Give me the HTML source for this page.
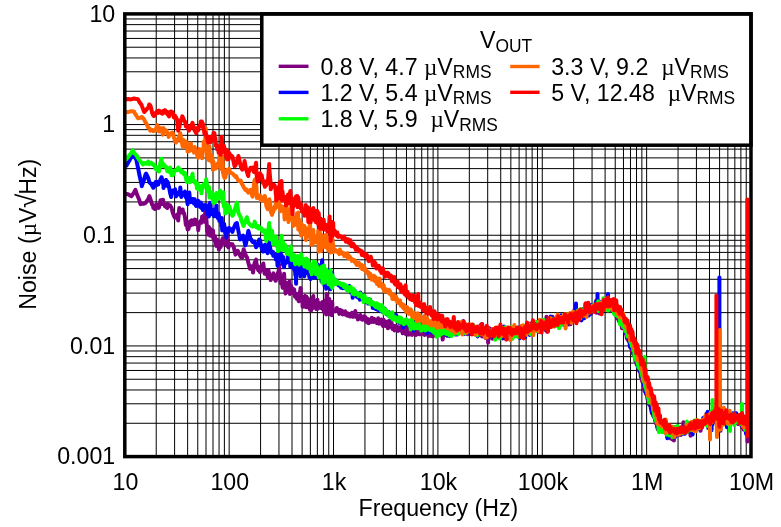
<!DOCTYPE html>
<html><head><meta charset="utf-8"><title>Noise vs Frequency</title>
<style>
html,body{margin:0;padding:0;background:#fff;}
body{width:781px;height:527px;overflow:hidden;}
svg{display:block;}
.t text{font-family:"Liberation Sans",Arial,Helvetica,sans-serif;font-size:23.2px;fill:#000;}
.t .mu{font-family:"Liberation Serif","Times New Roman",serif;}
.t .sub{font-size:17.4px;}
.t .rad{font-size:26px;}
</style></head><body>
<svg width="781" height="527" viewBox="0 0 781 527">
<rect width="781" height="527" fill="#fff"/>
<path d="M156.22 13.90V456.60M174.60 13.90V456.60M187.63 13.90V456.60M197.75 13.90V456.60M206.01 13.90V456.60M213.00 13.90V456.60M219.05 13.90V456.60M224.39 13.90V456.60M229.17 13.90V456.60M260.58 13.90V456.60M278.96 13.90V456.60M292.00 13.90V456.60M302.12 13.90V456.60M310.38 13.90V456.60M317.37 13.90V456.60M323.42 13.90V456.60M328.76 13.90V456.60M333.53 13.90V456.60M364.95 13.90V456.60M383.33 13.90V456.60M396.37 13.90V456.60M406.48 13.90V456.60M414.75 13.90V456.60M421.73 13.90V456.60M427.79 13.90V456.60M433.12 13.90V456.60M437.90 13.90V456.60M469.32 13.90V456.60M487.70 13.90V456.60M500.73 13.90V456.60M510.85 13.90V456.60M519.11 13.90V456.60M526.10 13.90V456.60M532.15 13.90V456.60M537.49 13.90V456.60M542.27 13.90V456.60M573.68 13.90V456.60M592.06 13.90V456.60M605.10 13.90V456.60M615.22 13.90V456.60M623.48 13.90V456.60M630.47 13.90V456.60M636.52 13.90V456.60M641.86 13.90V456.60M646.63 13.90V456.60M678.05 13.90V456.60M696.43 13.90V456.60M709.47 13.90V456.60M719.58 13.90V456.60M727.85 13.90V456.60M734.83 13.90V456.60M740.89 13.90V456.60M746.22 13.90V456.60M124.80 423.28H751.00M124.80 403.79H751.00M124.80 389.97H751.00M124.80 379.24H751.00M124.80 370.48H751.00M124.80 363.07H751.00M124.80 356.65H751.00M124.80 350.99H751.00M124.80 345.93H751.00M124.80 312.61H751.00M124.80 293.12H751.00M124.80 279.29H751.00M124.80 268.57H751.00M124.80 259.80H751.00M124.80 252.39H751.00M124.80 245.98H751.00M124.80 240.31H751.00M124.80 235.25H751.00M124.80 201.93H751.00M124.80 182.44H751.00M124.80 168.62H751.00M124.80 157.89H751.00M124.80 149.13H751.00M124.80 141.72H751.00M124.80 135.30H751.00M124.80 129.64H751.00M124.80 124.57H751.00M124.80 91.26H751.00M124.80 71.77H751.00M124.80 57.94H751.00M124.80 47.22H751.00M124.80 38.45H751.00M124.80 31.04H751.00M124.80 24.63H751.00M124.80 18.96H751.00" stroke="#000" stroke-width="1" fill="none"/>
<g stroke="#800080" stroke-width="4" fill="none" stroke-linejoin="round" stroke-linecap="round">
<path d="M126.4 194.0 L128.1 194.2 L131.1 196.1 L131.5 196.2 L134.0 192.5 L135.4 189.8 L136.7 193.8 L139.2 199.7 L140.5 204.2 L141.6 203.7 L143.9 203.8 L145.6 202.9 L146.1 202.2 L148.2 199.0 L149.2 196.5 L149.4 196.2 L150.2 198.4 L151.2 201.6 L152.1 204.6 L153.1 205.1 L153.3 207.8 L153.9 207.6 L154.9 209.0 L155.6 207.5 L156.6 204.5 L157.3 207.6 L158.3 208.0 L158.4 206.7 L159.0 207.4 L160.0 203.9 L160.5 200.2 L161.5 200.6 L162.1 204.0 L162.3 199.9 L163.1 199.7 L163.5 202.6 L164.5 204.0 L165.0 206.3 L166.0 206.1 L166.1 204.7 L166.3 207.1 L167.3 207.9 L167.7 203.8 L168.7 205.0 L169.0 204.9 L170.2 205.6 L171.2 207.4 L171.5 207.4 L172.7 212.6 L173.8 215.5 L175.0 217.8 L175.1 215.8 L176.1 217.1 L177.2 214.6 L177.6 215.3 L178.2 220.5 L179.3 208.0 L180.3 211.7 L181.3 212.4 L182.2 212.0 L182.7 209.5 L183.2 212.7 L184.1 213.2 L185.0 217.5 L185.9 225.0 L186.8 223.5 L187.6 229.6 L187.9 228.0 L188.5 229.1 L189.3 225.6 L190.1 221.2 L190.9 225.2 L191.7 220.2 L192.5 223.6 L193.0 221.5 L193.2 224.4 L194.0 220.9 L194.7 219.6 L195.4 224.3 L196.1 220.0 L196.8 223.7 L197.5 224.5 L198.1 225.3 L198.2 230.2 L198.9 224.2 L199.5 222.4 L200.2 222.2 L200.8 220.9 L201.4 222.8 L201.9 221.2 L202.1 216.4 L202.7 220.1 L203.3 218.8 L203.9 215.4 L204.5 221.7 L205.1 214.4 L205.6 207.9 L205.8 214.1 L206.2 217.5 L206.8 225.2 L207.1 231.5 L207.3 226.0 L207.9 234.6 L208.4 227.7 L208.9 226.9 L209.5 232.6 L210.0 235.6 L210.5 229.1 L211.0 232.8 L211.5 233.6 L212.0 236.5 L212.2 234.3 L212.5 236.7 L213.0 230.4 L213.5 238.5 L214.0 239.8 L214.4 240.1 L214.9 236.3 L215.4 239.3 L215.8 242.9 L216.3 245.9 L216.7 242.2 L217.2 239.8 L217.6 241.4 L218.0 242.2 L218.5 245.3 L218.6 244.8 L218.9 249.5 L219.3 243.5 L219.8 242.3 L220.2 245.4 L220.6 247.0 L221.0 241.4 L221.4 243.5 L221.8 243.0 L222.2 243.3 L222.4 238.9 L222.6 243.1 L223.0 238.0 L223.4 239.1 L223.8 242.3 L224.1 241.0 L224.5 242.1 L224.9 243.7 L225.3 243.5 L225.6 243.0 L226.0 241.3 L226.4 245.1 L226.7 233.7 L227.1 241.4 L227.4 246.1 L227.6 246.2 L227.8 240.9 L228.1 243.5 L228.5 247.6 L228.8 244.7 L229.2 244.0 L230.0 244.0 L232.4 244.3 L233.8 247.3 L235.5 254.6 L237.7 250.8 L238.4 252.7 L241.1 257.3 L242.3 257.4 L243.6 249.2 L246.0 256.0 L246.9 257.2 L248.3 262.6 L250.0 268.7 L250.5 266.1 L252.5 267.1 L253.0 272.6 L254.5 263.4 L256.1 259.7 L256.4 263.4 L258.3 270.3 L258.4 266.7 L260.0 272.1 L261.5 265.7 L261.7 269.8 L263.3 263.5 L264.6 273.7 L264.9 273.7 L266.4 270.5 L267.9 277.7 L268.4 270.1 L269.3 274.2 L270.7 280.0 L272.0 276.4 L273.0 278.1 L273.3 273.3 L274.6 275.6 L275.1 279.9 L275.6 275.6 L275.8 280.8 L276.3 275.5 L276.8 276.5 L276.9 277.8 L277.0 277.8 L277.5 277.8 L278.0 272.4 L278.2 272.7 L278.7 271.2 L279.2 268.1 L279.2 264.7 L279.3 271.8 L279.8 272.6 L280.4 279.2 L280.7 283.1 L280.9 282.3 L281.5 279.2 L282.0 282.5 L282.6 287.8 L283.1 276.9 L283.6 280.3 L284.1 273.8 L284.6 283.0 L285.1 287.3 L285.6 293.5 L286.1 282.8 L286.6 286.0 L287.1 290.6 L287.5 291.8 L288.0 288.3 L288.5 288.9 L289.0 287.6 L289.4 281.6 L289.9 293.9 L290.0 291.5 L290.3 288.6 L290.8 291.6 L291.1 285.7 L291.6 287.6 L292.0 291.3 L292.5 292.9 L292.8 291.0 L293.3 289.0 L293.7 293.5 L294.2 289.6 L294.5 293.4 L295.0 296.7 L295.3 293.2 L295.8 295.2 L296.1 293.7 L296.6 296.1 L296.8 298.7 L297.3 295.3 L297.6 298.3 L298.1 295.5 L298.3 300.0 L298.8 301.3 L299.1 296.4 L299.6 295.8 L299.8 291.9 L300.0 297.4 L300.3 292.0 L300.5 288.1 L301.0 299.0 L301.2 296.8 L301.7 296.4 L301.9 300.1 L302.4 299.9 L302.6 306.8 L303.1 297.3 L303.2 301.3 L303.7 298.5 L303.9 299.7 L304.4 296.7 L304.5 297.8 L305.0 295.9 L305.2 305.7 L305.7 306.8 L305.8 304.7 L306.3 296.6 L306.4 307.3 L307.0 303.0 L307.7 298.2 L308.3 300.9 L308.8 307.7 L309.4 300.2 L310.0 309.7 L310.6 301.1 L311.1 310.6 L311.7 302.4 L312.2 308.7 L312.8 297.3 L312.8 304.0 L313.3 296.0 L313.8 307.6 L314.4 306.0 L314.9 307.0 L315.4 306.2 L315.9 303.2 L316.4 309.1 L316.9 303.9 L317.4 299.7 L317.8 308.7 L318.3 307.9 L318.8 304.9 L319.3 305.9 L319.7 303.3 L320.2 307.6 L320.6 305.5 L321.1 308.0 L321.5 306.6 L322.0 308.3 L322.4 301.9 L322.8 309.2 L323.3 303.4 L323.7 309.8 L324.1 312.3 L324.5 309.3 L325.0 312.7 L325.4 309.8 L325.6 306.6 L325.8 299.9 L326.2 314.4 L326.6 294.0 L327.0 304.7 L327.4 304.2 L327.7 305.7 L328.1 306.6 L328.5 304.6 L328.9 308.6 L329.3 299.1 L329.6 314.3 L330.0 307.8 L330.4 306.1 L330.7 302.1 L331.1 313.4 L331.4 312.5 L331.8 315.3 L332.2 302.1 L332.5 307.6 L332.8 311.2 L333.2 311.5 L333.5 310.5 L334.0 311.2 L334.5 311.1 L335.0 311.0 L335.5 311.2 L336.0 310.6 L336.5 310.6 L336.8 307.9 L337.3 309.1 L337.8 310.9 L338.3 311.6 L338.8 311.6 L339.3 313.9 L339.9 309.8 L340.4 313.0 L340.9 311.4 L341.4 312.8 L341.9 310.8 L342.4 311.4 L342.7 314.6 L343.2 312.3 L343.7 312.6 L344.2 312.4 L344.7 311.5 L345.2 311.4 L345.4 314.6 L345.9 313.2 L346.4 312.8 L346.9 315.4 L347.4 313.1 L348.0 315.8 L348.5 315.1 L349.0 314.3 L349.5 315.7 L350.0 316.5 L350.4 316.4 L350.9 314.6 L351.4 315.6 L351.9 312.8 L352.4 316.5 L352.7 316.8 L353.2 316.7 L353.7 315.0 L354.2 315.0 L354.7 316.5 L354.8 315.3 L355.3 310.9 L355.8 315.4 L356.3 316.9 L356.9 317.3 L357.4 315.1 L357.9 319.4 L358.4 315.7 L358.9 317.1 L359.4 318.7 L359.9 317.5 L360.4 315.0 L360.8 318.6 L361.3 316.7 L361.8 319.5 L362.3 319.2 L362.6 319.7 L363.1 318.9 L363.6 318.6 L364.1 317.4 L364.4 316.4 L364.9 318.1 L365.4 317.1 L365.9 321.1 L366.1 321.6 L366.6 318.5 L367.1 320.8 L367.6 319.0 L367.7 320.5 L368.2 323.0 L368.7 323.1 L369.3 319.9 L369.8 321.4 L370.3 321.0 L370.8 319.1 L371.3 321.9 L371.8 317.8 L372.3 320.2 L372.8 321.1 L373.3 318.6 L373.7 322.0 L374.2 320.9 L374.7 319.1 L375.1 320.0 L375.6 320.0 L376.1 322.0 L376.4 321.6 L376.9 323.1 L377.4 321.4 L377.7 322.1 L378.2 318.3 L378.7 322.7 L379.0 323.6 L379.5 322.9 L380.0 322.8 L380.2 320.0 L380.7 322.9 L381.2 323.7 L381.4 319.4 L381.9 321.3 L382.4 322.5 L382.6 323.9 L383.1 326.0 L383.6 322.6 L383.7 319.7 L384.2 322.7 L384.8 321.4 L385.3 326.0 L385.9 324.2 L386.4 323.2 L387.0 325.8 L387.5 321.6 L388.0 328.3 L388.5 323.1 L389.0 326.1 L389.5 320.7 L390.0 326.4 L390.5 326.7 L391.0 325.2 L391.5 322.2 L391.9 326.9 L392.4 328.5 L392.8 329.1 L393.3 325.9 L393.7 325.8 L394.2 327.6 L394.6 330.4 L395.1 328.2 L395.5 327.6 L396.0 326.1 L396.4 327.1 L396.9 326.4 L397.2 328.7 L397.7 328.6 L398.0 330.9 L398.5 328.3 L398.8 328.0 L399.3 329.0 L399.6 329.4 L400.1 327.4 L400.4 330.4 L400.9 327.4 L401.2 328.7 L401.7 325.3 L402.0 329.1 L402.5 328.8 L402.7 333.3 L403.2 328.4 L403.4 328.2 L403.9 328.6 L404.2 326.9 L404.7 330.2 L404.9 329.1 L405.4 330.6 L405.6 328.0 L406.1 334.3 L406.3 331.0 L406.8 328.7 L406.9 328.5 L407.4 328.6 L407.6 333.0 L408.1 334.7 L408.3 325.1 L408.8 333.5 L408.9 330.3 L409.4 328.0 L409.5 332.4 L410.0 334.4 L410.2 325.5 L410.7 329.7 L410.8 331.8 L411.4 329.0 L412.0 334.9 L412.6 330.2 L413.2 331.0 L413.8 334.0 L414.4 330.6 L414.9 333.4 L415.5 332.5 L416.0 335.0 L416.6 331.3 L417.1 332.4 L417.7 334.2 L418.2 330.5 L418.7 330.6 L419.2 332.8 L419.7 334.3 L420.3 331.9 L420.8 334.2 L421.2 334.2 L421.7 332.2 L422.2 332.1 L422.7 331.7 L423.2 333.2 L423.6 331.6 L424.1 330.7 L424.6 334.9 L425.0 329.5 L425.5 334.0 L425.9 330.2 L426.3 332.1 L426.8 334.1 L427.2 333.0 L427.6 334.6 L428.1 335.0 L428.5 336.1 L428.9 332.1 L429.3 331.4 L429.7 333.0 L430.1 333.3 L430.5 335.0 L430.9 333.9 L431.3 335.9 L431.7 332.9 L432.1 335.2 L432.5 336.3 L432.9 332.4 L433.3 332.0 L433.6 334.4 L434.0 334.6 L434.4 332.3 L434.7 334.0 L435.1 333.1 L435.5 331.6 L435.8 336.0 L436.2 333.2 L436.5 331.3 L436.9 331.4 L437.2 331.3 L437.6 333.0 L437.9 331.2 L438.4 334.6 L438.9 332.1 L439.4 333.5 L439.9 332.4 L440.4 328.8 L440.9 332.4 L441.2 326.3 L441.7 333.5 L442.2 331.7 L442.7 339.6 L443.2 334.3 L443.7 332.6 L444.2 330.9 L444.7 332.4 L445.2 330.5 L445.7 333.3 L446.2 332.1 L446.7 334.3 L447.1 335.8 L447.6 333.0 L448.1 330.7 L448.6 331.7 L449.1 333.7 L449.6 324.8 L449.8 331.0 L450.3 329.1 L450.8 333.2 L451.3 331.0 L451.8 332.8 L452.3 333.0 L452.8 329.9 L453.3 331.3 L453.8 329.1 L454.3 327.3 L454.7 332.0 L455.2 332.9 L455.7 333.9 L456.2 330.6 L456.7 325.1 L457.0 328.1 L457.5 334.5 L458.0 331.0 L458.5 325.6 L459.0 329.4 L459.2 329.6 L459.7 329.3 L460.2 329.4 L460.7 325.2 L461.3 329.3 L461.8 330.5 L462.3 332.8 L462.8 332.5 L463.3 320.9 L463.8 327.3 L464.3 325.0 L464.8 326.6 L465.2 326.0 L465.7 330.9 L466.2 328.4 L466.7 331.1 L467.0 331.1 L467.5 334.2 L468.0 333.7 L468.5 331.8 L468.7 328.5 L469.2 327.2 L469.7 327.6 L470.2 331.2 L470.4 327.1 L470.9 328.3 L471.4 330.5 L471.9 327.9 L472.1 331.8 L472.6 332.9 L473.1 329.3 L473.6 330.7 L474.1 331.3 L474.6 334.2 L475.2 329.0 L475.7 332.4 L476.2 332.9 L476.6 329.6 L477.1 330.3 L477.6 333.9 L478.1 330.8 L478.6 330.3 L479.1 328.6 L479.4 334.7 L479.9 330.7 L480.4 325.3 L480.8 331.4 L481.3 334.9 L481.8 332.6 L482.1 336.4 L482.6 330.1 L483.1 332.5 L483.3 330.9 L483.8 336.3 L484.3 333.2 L484.6 331.5 L485.1 332.9 L485.6 338.0 L485.8 331.1 L486.3 333.0 L486.8 334.2 L486.9 333.3 L487.4 331.6 L487.9 334.5 L488.1 342.7 L488.6 331.4 L489.2 328.2 L489.7 330.7 L490.3 328.7 L490.8 333.3 L491.3 332.8 L491.8 338.0 L492.4 338.7 L492.9 331.3 L493.4 336.7 L493.9 335.1 L494.4 333.7 L494.9 336.0 L495.3 328.7 L495.8 333.8 L496.3 334.6 L496.8 337.3 L497.2 334.3 L497.7 336.9 L498.1 334.8 L498.6 333.3 L499.0 332.9 L499.5 332.4 L499.9 337.8 L500.4 334.9 L500.7 335.1 L501.2 327.5 L501.6 332.6 L502.1 329.5 L502.4 337.0 L502.9 331.3 L503.2 337.4 L503.7 336.4 L504.0 336.3 L504.5 334.2 L504.8 334.8 L505.3 331.0 L505.6 332.4 L506.1 333.0 L506.3 334.8 L506.8 334.2 L507.1 330.5 L507.6 339.0 L507.8 335.0 L508.3 328.5 L508.5 332.8 L509.0 334.5 L509.2 331.8 L509.7 331.3 L509.9 333.8 L510.4 333.1 L510.6 335.0 L511.1 330.0 L511.3 331.7 L511.8 328.8 L512.0 331.7 L512.5 333.5 L512.6 334.1 L513.1 333.1 L513.3 333.0 L513.8 334.0 L513.9 332.5 L514.4 330.9 L514.5 331.7 L515.0 331.1 L515.2 333.1 L515.8 335.1 L516.4 332.2 L517.0 330.4 L517.6 330.2 L518.2 336.4 L518.7 331.4 L519.3 329.6 L519.9 329.0 L520.4 329.7 L521.0 333.7 L521.5 335.3 L522.0 332.3 L522.6 329.2 L523.1 333.6 L523.6 331.5 L524.1 331.4 L524.6 328.3 L525.1 328.5 L525.6 330.1 L526.1 332.1 L526.6 330.9 L527.1 330.9 L527.5 330.7 L528.0 334.1 L528.5 331.0 L528.9 329.0 L529.4 326.8 L529.8 328.9 L530.3 328.5 L530.7 323.5 L531.1 330.1 L531.6 327.7 L532.0 328.3 L532.4 325.5 L532.9 329.2 L533.3 328.4 L533.7 330.4 L534.1 328.9 L534.5 325.0 L534.9 328.6 L535.3 323.1 L535.7 330.0 L536.1 326.0 L536.5 328.9 L536.9 322.0 L537.2 329.1 L537.6 326.3 L538.0 326.3 L538.4 332.1 L538.7 325.5 L539.1 330.5 L539.5 329.6 L539.8 326.4 L540.2 326.8 L540.5 327.1 L540.9 327.0 L541.2 325.1 L541.6 323.1 L541.9 328.4 L542.3 326.4 L542.8 323.9 L543.3 327.3 L543.8 326.1 L544.3 322.3 L544.8 324.7 L545.3 330.0 L545.5 324.0 L546.0 325.3 L546.5 316.7 L547.0 331.7 L547.5 321.0 L548.0 324.5 L548.6 323.2 L549.1 321.0 L549.6 322.8 L550.1 319.9 L550.6 326.7 L551.1 322.9 L551.5 321.3 L552.0 324.1 L552.5 316.7 L553.0 322.8 L553.5 322.2 L554.0 319.6 L554.2 322.9 L554.7 326.2 L555.2 325.1 L555.7 323.6 L556.2 322.8 L556.7 323.7 L557.2 321.6 L557.7 322.1 L558.2 321.6 L558.7 323.1 L559.1 319.0 L559.6 319.6 L560.1 320.5 L560.6 323.4 L561.1 324.9 L561.4 323.3 L561.9 317.0 L562.4 319.2 L562.9 323.6 L563.4 321.3 L563.6 320.0 L564.1 322.7 L564.6 322.0 L565.1 319.7 L565.6 320.2 L566.1 315.7 L566.6 317.4 L567.1 320.7 L567.6 319.3 L568.1 321.1 L568.6 324.5 L569.1 319.8 L569.5 323.2 L570.0 319.8 L570.5 324.3 L571.0 317.2 L571.4 314.4 L571.9 318.8 L572.4 315.4 L572.9 319.5 L573.1 316.4 L573.6 314.7 L574.1 315.7 L574.6 309.1 L574.8 311.4 L575.3 314.6 L575.8 313.1 L576.3 314.7 L576.4 318.3 L576.9 321.2 L577.4 314.6 L578.0 315.3 L578.5 316.0 L579.0 315.5 L579.5 314.8 L580.0 310.7 L580.5 312.0 L581.0 313.6 L581.5 313.4 L582.0 314.3 L582.4 316.4 L582.9 311.2 L583.4 308.9 L583.8 313.9 L584.3 310.8 L584.8 311.8 L585.1 312.0 L585.6 303.9 L586.1 311.8 L586.4 314.6 L586.9 313.5 L587.4 307.9 L587.7 314.1 L588.2 309.6 L588.7 311.4 L588.9 310.1 L589.4 307.3 L589.9 309.2 L590.1 313.2 L590.6 308.0 L591.1 313.9 L591.3 309.7 L591.8 305.8 L592.3 306.7 L592.4 305.2 L592.9 307.5 L593.5 306.4 L594.0 305.4 L594.6 308.4 L595.1 308.4 L595.7 307.4 L596.2 300.6 L596.7 312.8 L597.2 308.2 L597.7 306.3 L598.2 309.1 L598.7 301.2 L599.2 306.7 L599.7 313.6 L600.2 302.9 L600.6 302.9 L601.1 308.0 L601.6 307.1 L602.1 304.2 L602.5 307.9 L603.0 302.9 L603.4 307.4 L603.9 298.8 L604.2 304.2 L604.7 305.4 L605.1 307.0 L605.6 300.8 L605.9 304.7 L606.4 305.1 L606.8 304.1 L607.3 309.5 L607.6 306.2 L608.1 309.8 L608.4 305.2 L608.9 306.6 L609.2 301.9 L609.7 304.7 L609.9 309.0 L610.4 309.0 L610.7 310.6 L611.2 308.3 L611.4 308.1 L611.9 302.8 L612.2 304.2 L612.7 307.3 L612.9 308.3 L613.4 308.5 L613.6 311.4 L614.1 306.4 L614.3 309.2 L614.8 310.3 L615.0 311.5 L615.5 313.9 L615.7 315.7 L616.2 310.2 L616.3 312.8 L616.8 306.8 L617.0 318.4 L617.5 311.8 L617.6 316.7 L618.1 312.7 L618.3 317.5 L618.8 316.1 L618.9 321.1 L619.4 321.1 L619.5 317.3 L620.1 322.8 L620.8 320.7 L621.4 320.7 L621.9 328.2 L622.5 320.4 L623.1 324.3 L623.7 327.8 L624.2 329.2 L624.8 329.2 L625.3 332.6 L625.9 333.5 L626.4 334.8 L626.9 338.4 L627.5 339.3 L628.0 339.6 L628.5 341.0 L629.0 338.1 L629.5 338.9 L630.0 346.8 L630.5 341.8 L630.9 345.5 L631.4 348.6 L631.9 351.0 L632.4 353.1 L632.8 350.1 L633.3 354.3 L633.7 351.1 L634.2 354.9 L634.6 355.5 L635.1 354.5 L635.5 361.3 L635.9 357.5 L636.4 363.9 L636.8 360.1 L637.2 364.6 L637.6 365.1 L638.1 365.7 L638.5 367.7 L638.9 370.4 L639.3 370.2 L639.7 369.1 L640.1 372.2 L640.5 371.8 L640.8 376.9 L641.2 374.6 L641.6 379.2 L642.0 380.3 L642.4 382.0 L642.7 373.1 L643.1 380.6 L643.5 381.9 L643.8 389.7 L644.2 382.9 L644.5 391.1 L644.9 390.4 L645.3 392.1 L645.6 391.6 L645.9 394.1 L646.3 392.9 L646.6 394.2 L647.1 394.4 L647.6 399.7 L648.1 399.4 L648.6 395.9 L649.1 404.3 L649.6 402.3 L649.9 405.5 L650.4 405.1 L650.9 406.6 L651.4 410.3 L651.9 413.5 L652.4 413.8 L653.0 411.4 L653.5 415.6 L654.0 417.1 L654.5 415.8 L655.0 419.6 L655.5 421.9 L655.8 423.2 L656.3 422.9 L656.8 421.4 L657.3 426.4 L657.8 429.4 L658.3 425.1 L658.5 422.5 L659.0 423.9 L659.5 421.5 L660.0 430.1 L660.5 423.7 L661.1 427.1 L661.6 428.7 L662.1 431.8 L662.6 430.1 L663.1 431.4 L663.5 427.1 L664.0 430.9 L664.5 427.4 L665.0 430.8 L665.5 428.7 L665.8 426.4 L666.3 433.2 L666.8 430.3 L667.3 431.9 L667.8 429.3 L667.9 430.1 L668.4 426.3 L668.9 428.8 L669.4 430.2 L670.0 433.9 L670.5 438.6 L671.0 431.0 L671.5 432.4 L672.0 435.6 L672.5 439.6 L673.0 435.6 L673.5 432.1 L673.9 440.4 L674.4 426.9 L674.9 433.8 L675.4 434.5 L675.7 432.4 L676.2 429.0 L676.7 428.1 L677.2 430.1 L677.5 431.0 L678.0 432.9 L678.5 435.0 L679.0 432.5 L679.2 431.0 L679.7 431.6 L680.2 432.3 L680.7 431.0 L680.8 435.0 L681.3 431.1 L681.8 431.3 L682.4 431.1 L682.9 429.8 L683.4 422.3 L683.9 430.5 L684.4 431.3 L684.9 428.2 L685.4 430.1 L685.9 431.3 L686.4 430.3 L686.8 432.3 L687.3 432.0 L687.8 427.3 L688.2 425.8 L688.7 423.4 L689.2 429.1 L689.5 429.4 L690.0 426.9 L690.5 435.7 L690.8 424.6 L691.3 424.4 L691.8 426.5 L692.1 427.0 L692.6 425.0 L693.1 429.3 L693.3 425.7 L693.8 425.3 L694.3 427.7 L694.5 424.4 L695.0 425.7 L695.5 428.2 L695.7 424.2 L696.2 422.7 L696.7 423.8 L696.8 424.9 L697.3 426.2 L697.9 425.7 L698.4 425.1 L699.0 425.8 L699.5 425.3 L700.1 424.5 L700.6 430.8 L701.1 422.9 L701.6 420.9 L702.1 425.7 L702.6 424.0 L703.1 420.8 L703.6 423.5 L704.1 421.1 L704.6 420.8 L705.0 421.6 L705.5 419.8 L705.9 418.0 L706.4 413.8 L706.8 424.5 L707.3 424.4 L707.7 420.7 L708.2 419.5 L708.6 416.9 L709.1 422.3 L709.5 420.0 L710.0 427.4 L710.3 414.6 L710.8 416.1 L711.1 418.3 L711.6 418.3 L711.9 416.8 L712.4 418.0 L712.7 413.3 L713.2 417.8 L713.5 414.2 L714.0 421.2 L714.3 418.9 L714.8 412.7 L715.1 418.6 L715.6 409.9 L715.8 422.5 L716.3 414.1 L716.5 420.1 L717.0 408.5 L717.3 422.6 L717.8 422.3 L718.0 409.3 L718.5 406.7 L718.7 420.9 L719.2 410.8 L719.4 426.6 L719.9 420.5 L720.0 421.5 L720.5 430.8 L720.7 413.6 L721.2 419.1 L721.4 417.2 L721.9 422.5 L722.0 415.7 L722.5 419.0 L722.6 416.3 L723.1 418.8 L723.3 421.1 L723.8 417.4 L723.9 419.6 L724.5 415.9 L725.1 416.8 L725.7 418.4 L726.3 414.2 L726.9 420.9 L727.5 417.6 L728.0 417.9 L728.6 422.0 L729.1 415.5 L729.7 417.5 L730.2 414.8 L730.8 422.0 L731.3 415.0 L731.8 417.6 L732.3 418.2 L732.8 418.5 L733.4 417.1 L733.9 415.4 L734.3 416.1 L734.8 421.1 L735.3 418.9 L735.8 419.7 L736.3 418.9 L736.7 419.8 L737.2 419.5 L737.7 423.6 L738.1 424.0 L738.6 420.3 L739.0 418.4 L739.4 418.7 L739.9 422.0 L740.3 418.1 L740.7 419.9 L741.2 420.2 L741.6 425.0 L742.0 427.2 L742.4 427.6 L742.8 426.5 L743.2 427.2 L743.6 429.6 L744.0 425.3 L744.4 424.7 L744.8 425.3 L745.2 422.8 L745.6 424.0 L746.0 424.7 L746.4 421.9 L746.7 421.7 L747.1 431.8 L747.5 432.7"/>
<path d="M747.4 420.0V441.5" stroke-width="4"/>
</g>
<g stroke="#0000ff" stroke-width="4" fill="none" stroke-linejoin="round" stroke-linecap="round">
<path d="M126.4 165.7 L128.1 162.8 L131.1 157.6 L132.8 154.1 L134.0 155.3 L136.6 160.4 L136.7 161.6 L139.2 173.5 L139.2 174.0 L141.6 184.6 L141.8 186.2 L143.9 180.1 L145.6 174.2 L146.1 173.7 L148.2 177.9 L149.2 181.5 L149.4 182.4 L150.2 183.1 L151.2 183.6 L152.1 185.8 L153.1 186.6 L153.3 187.8 L153.9 186.6 L154.9 186.0 L155.6 182.0 L156.6 185.2 L157.3 181.9 L158.3 184.5 L158.4 183.6 L159.0 182.4 L160.0 181.6 L160.5 179.2 L161.0 178.6 L161.5 177.2 L162.1 179.1 L163.1 183.5 L163.5 185.7 L163.5 188.0 L164.5 183.6 L165.0 183.0 L166.0 180.0 L166.3 182.7 L167.3 185.9 L167.4 181.5 L167.7 182.6 L168.7 186.1 L169.0 186.8 L170.2 193.3 L171.2 197.0 L171.5 195.1 L172.7 190.6 L173.8 192.0 L175.0 189.6 L175.1 189.2 L176.1 196.4 L177.2 193.5 L178.2 194.4 L179.3 192.0 L180.2 190.1 L180.3 187.5 L181.3 197.1 L182.2 193.4 L183.2 192.9 L184.0 194.6 L184.1 193.7 L185.0 191.6 L185.9 197.4 L186.8 198.1 L187.6 204.3 L187.9 198.3 L188.5 201.5 L189.3 192.6 L190.1 200.9 L190.9 202.1 L191.7 200.3 L191.7 199.2 L192.5 199.0 L193.2 199.0 L194.0 203.6 L194.7 199.3 L195.4 204.4 L196.1 206.0 L196.8 203.0 L196.8 205.7 L197.5 202.6 L198.2 200.9 L198.9 204.8 L199.5 205.7 L200.2 207.0 L200.8 202.5 L201.4 205.6 L201.9 208.3 L202.1 205.1 L202.7 209.9 L203.3 206.1 L203.9 206.6 L204.5 205.1 L205.1 207.4 L205.6 207.3 L206.2 205.2 L206.8 210.4 L207.1 209.8 L207.3 213.8 L207.9 206.3 L208.4 215.3 L208.9 216.5 L209.5 212.7 L210.0 202.8 L210.5 209.6 L211.0 211.6 L211.5 212.8 L212.0 214.1 L212.2 213.8 L212.5 211.0 L213.0 209.7 L213.5 211.2 L214.0 216.2 L214.4 216.1 L214.9 216.0 L215.4 212.9 L215.8 214.7 L216.3 205.6 L216.7 215.3 L217.2 217.0 L217.3 213.8 L217.6 217.9 L218.0 214.4 L218.5 213.3 L218.9 215.1 L219.3 220.9 L219.8 221.0 L220.2 218.0 L220.6 220.8 L221.0 222.9 L221.2 220.5 L221.4 226.0 L221.8 217.9 L222.2 230.4 L222.6 225.3 L223.0 227.6 L223.4 225.0 L223.8 226.6 L224.1 223.9 L224.5 226.7 L224.9 228.8 L225.0 230.3 L225.3 233.6 L225.6 231.8 L226.0 228.7 L226.4 237.5 L226.7 232.9 L227.1 229.0 L227.4 232.1 L227.8 230.1 L228.1 231.6 L228.5 230.9 L228.8 228.1 L229.2 228.1 L230.0 228.5 L232.4 231.8 L233.1 229.6 L235.5 224.0 L236.9 223.0 L238.4 231.0 L240.0 239.5 L241.1 237.2 L243.1 235.7 L243.6 238.1 L245.4 245.4 L246.0 243.6 L248.3 231.0 L248.4 230.9 L250.5 238.7 L251.5 239.9 L252.5 242.0 L254.5 241.5 L256.1 247.2 L256.4 246.1 L258.3 245.2 L259.2 239.5 L260.0 240.4 L261.7 248.1 L262.3 250.1 L263.3 251.5 L264.9 244.7 L265.3 247.8 L266.4 249.4 L267.6 253.2 L267.9 247.0 L269.2 242.5 L269.3 243.5 L270.7 250.8 L272.0 253.5 L273.0 251.9 L273.3 255.8 L274.6 255.7 L275.1 255.8 L275.6 255.0 L275.8 259.5 L276.1 258.0 L276.3 259.3 L276.8 259.9 L277.0 254.5 L277.5 265.7 L278.0 260.7 L278.2 263.1 L278.7 257.4 L279.2 251.7 L279.3 256.4 L279.8 248.9 L280.4 251.5 L280.7 257.2 L280.9 254.5 L281.5 254.9 L282.0 257.3 L282.6 264.1 L283.1 256.9 L283.6 265.6 L283.8 264.8 L284.1 267.2 L284.6 263.6 L285.1 262.9 L285.6 261.8 L286.1 262.1 L286.6 262.6 L287.1 262.0 L287.5 260.4 L288.0 254.5 L288.4 259.5 L288.5 256.2 L289.0 252.0 L289.4 259.9 L289.9 257.8 L290.3 266.8 L290.8 254.2 L291.1 263.5 L291.5 265.7 L291.6 263.1 L292.0 262.2 L292.5 265.3 L292.8 264.0 L293.3 267.5 L293.7 267.1 L294.2 269.4 L294.5 270.0 L295.0 268.0 L295.3 274.8 L295.8 275.8 L296.1 283.8 L296.1 269.0 L296.6 265.5 L296.8 273.2 L297.3 264.7 L297.6 269.2 L298.1 270.2 L298.3 269.3 L298.8 268.7 L299.1 264.0 L299.6 268.4 L299.8 266.3 L300.3 276.5 L300.5 266.9 L300.7 267.7 L301.0 270.7 L301.2 271.4 L301.7 271.2 L301.9 272.2 L302.4 274.4 L302.6 270.1 L303.1 270.3 L303.2 274.7 L303.7 266.0 L303.9 275.1 L304.4 276.2 L304.5 263.0 L305.0 263.1 L305.2 271.1 L305.3 271.2 L305.7 273.6 L305.8 263.7 L306.3 271.8 L306.4 265.7 L307.0 272.3 L307.7 272.9 L308.3 267.1 L308.8 272.2 L309.4 277.2 L309.9 273.0 L310.0 277.3 L310.6 279.2 L311.1 272.5 L311.7 271.9 L312.2 275.0 L312.8 277.3 L313.3 272.2 L313.8 269.9 L314.4 268.6 L314.9 272.3 L315.4 277.7 L315.9 268.0 L316.0 272.3 L316.4 271.1 L316.9 269.5 L317.4 266.3 L317.8 264.4 L318.3 275.9 L318.8 273.0 L319.3 276.2 L319.7 274.5 L320.2 275.5 L320.6 267.7 L321.1 268.2 L321.2 274.4 L321.5 281.4 L322.0 262.0 L322.2 260.2 L322.4 267.6 L322.8 275.4 L323.2 279.0 L323.3 279.6 L323.7 279.2 L324.1 273.8 L324.5 285.6 L325.0 278.0 L325.4 282.5 L325.8 279.0 L326.2 288.8 L326.6 283.0 L327.0 279.9 L327.4 275.7 L327.7 269.9 L328.1 279.5 L328.5 286.6 L328.9 275.6 L329.3 278.1 L329.6 278.5 L329.9 280.0 L330.0 281.8 L330.4 289.2 L330.7 276.6 L331.1 277.2 L331.4 284.3 L331.8 281.6 L332.2 272.4 L332.5 283.7 L332.8 279.0 L333.2 283.2 L333.5 280.1 L334.0 281.6 L334.5 280.7 L335.0 279.5 L335.5 282.8 L336.0 283.9 L336.5 281.6 L336.8 282.1 L337.3 282.9 L337.8 282.7 L338.3 285.2 L338.8 284.4 L339.3 283.5 L339.9 285.5 L340.4 286.9 L340.9 285.5 L341.4 287.7 L341.9 284.1 L342.4 286.1 L342.7 288.2 L343.2 286.6 L343.7 286.2 L344.2 287.1 L344.7 287.9 L345.2 287.3 L345.4 286.5 L345.9 287.2 L346.4 286.6 L346.9 287.4 L347.4 290.0 L348.0 288.4 L348.5 290.3 L349.0 290.4 L349.5 285.9 L350.0 291.1 L350.4 290.7 L350.9 292.5 L351.4 291.4 L351.9 290.8 L352.4 292.4 L352.7 297.8 L353.2 294.5 L353.7 291.7 L354.2 294.6 L354.7 290.4 L354.8 292.4 L355.3 295.1 L355.8 294.1 L356.3 294.6 L356.9 296.8 L357.4 296.1 L357.9 297.6 L358.4 297.6 L358.9 293.6 L359.4 297.8 L359.9 299.6 L360.4 292.6 L360.8 298.3 L361.3 295.5 L361.8 297.6 L362.3 299.2 L362.6 295.2 L363.1 297.9 L363.6 298.6 L364.1 298.6 L364.4 301.6 L364.9 300.0 L365.4 302.0 L365.9 301.8 L366.1 299.5 L366.6 300.6 L367.1 301.3 L367.6 303.0 L367.7 301.4 L368.2 303.5 L368.7 299.0 L369.3 301.0 L369.8 302.2 L370.3 299.8 L370.8 302.8 L371.3 303.1 L371.8 304.4 L372.3 302.8 L372.8 308.1 L373.3 305.5 L373.7 306.1 L374.2 304.6 L374.7 305.8 L375.1 304.6 L375.6 309.0 L376.1 307.0 L376.4 308.0 L376.9 306.8 L377.4 309.7 L377.7 307.7 L378.2 309.9 L378.7 307.2 L379.0 306.8 L379.5 307.7 L380.0 311.0 L380.2 308.7 L380.7 310.3 L381.2 310.8 L381.4 310.2 L381.9 311.3 L382.4 311.7 L382.6 308.1 L383.1 309.2 L383.6 310.2 L383.7 311.3 L384.2 312.2 L384.8 308.7 L385.3 310.9 L385.9 312.5 L386.4 311.1 L387.0 314.5 L387.5 314.0 L388.0 314.1 L388.5 315.2 L389.0 312.2 L389.5 315.7 L390.0 313.5 L390.5 316.0 L391.0 313.8 L391.5 316.2 L391.9 319.0 L392.4 313.7 L392.8 317.8 L393.3 316.7 L393.7 318.0 L394.2 315.6 L394.6 315.4 L395.1 317.7 L395.5 319.1 L396.0 315.1 L396.4 315.8 L396.9 317.1 L397.2 320.9 L397.7 320.2 L398.0 319.0 L398.5 319.1 L398.8 318.2 L399.3 323.0 L399.6 317.9 L400.1 320.3 L400.4 320.2 L400.9 321.5 L401.2 319.5 L401.7 320.4 L402.0 320.6 L402.5 320.5 L402.7 323.5 L403.2 324.5 L403.4 327.3 L403.9 322.4 L404.2 325.1 L404.7 322.4 L404.9 323.7 L405.4 320.6 L405.6 324.6 L406.1 321.9 L406.3 322.9 L406.8 321.5 L406.9 324.2 L407.4 320.9 L407.6 322.7 L408.1 320.8 L408.3 324.4 L408.8 323.5 L408.9 324.8 L409.4 325.4 L409.5 324.7 L410.0 324.1 L410.2 323.9 L410.7 326.7 L410.8 327.5 L411.4 326.1 L412.0 322.3 L412.6 324.7 L413.2 322.7 L413.8 330.6 L414.4 327.6 L414.9 326.8 L415.5 325.9 L416.0 325.3 L416.6 323.5 L417.1 327.9 L417.7 328.2 L418.2 323.6 L418.7 326.3 L419.2 327.5 L419.7 326.7 L420.3 324.0 L420.8 329.7 L421.2 327.2 L421.7 328.8 L422.2 326.3 L422.7 328.3 L423.2 330.4 L423.6 326.8 L424.1 324.8 L424.6 329.9 L425.0 324.6 L425.5 328.1 L425.9 331.6 L426.3 326.8 L426.8 328.8 L427.2 333.1 L427.6 327.1 L428.1 329.2 L428.5 328.0 L428.9 328.3 L429.3 329.5 L429.7 325.7 L430.1 328.1 L430.5 330.2 L430.9 329.9 L431.3 328.6 L431.7 326.6 L432.1 332.7 L432.5 331.4 L432.9 327.3 L433.3 330.8 L433.6 328.4 L434.0 332.1 L434.4 330.6 L434.7 329.6 L435.1 329.0 L435.5 324.3 L435.8 332.0 L436.2 329.3 L436.5 330.1 L436.9 329.7 L437.2 328.0 L437.6 327.8 L437.9 330.0 L438.4 332.7 L438.9 328.9 L439.4 330.2 L439.9 333.0 L440.4 330.9 L440.9 331.9 L441.2 332.5 L441.7 332.1 L442.2 331.3 L442.7 330.1 L443.2 333.3 L443.7 331.2 L444.2 330.7 L444.7 331.5 L445.2 333.8 L445.7 332.8 L446.2 334.2 L446.7 335.2 L447.1 331.0 L447.6 331.3 L448.1 327.9 L448.6 329.7 L449.1 332.0 L449.6 336.3 L449.8 331.5 L450.3 330.3 L450.8 331.9 L451.3 329.7 L451.8 326.0 L452.3 328.8 L452.8 328.7 L453.3 334.0 L453.8 329.7 L454.3 330.3 L454.7 333.0 L455.2 328.3 L455.7 334.5 L456.2 327.6 L456.7 327.6 L457.0 331.7 L457.5 326.8 L458.0 329.7 L458.5 329.1 L459.0 332.5 L459.2 331.6 L459.7 326.3 L460.2 329.4 L460.7 328.6 L461.3 330.0 L461.8 331.8 L462.3 325.6 L462.8 327.9 L463.3 331.1 L463.8 329.6 L464.3 334.1 L464.8 328.5 L465.2 331.2 L465.7 328.0 L466.2 328.6 L466.7 326.9 L467.0 327.8 L467.5 326.7 L468.0 330.0 L468.5 330.3 L468.7 329.6 L469.2 325.2 L469.7 327.7 L470.2 333.9 L470.4 329.0 L470.9 329.0 L471.4 333.2 L471.9 327.9 L472.1 328.5 L472.6 332.7 L473.1 327.6 L473.6 331.0 L474.1 330.2 L474.6 332.2 L475.2 332.2 L475.7 328.2 L476.2 330.3 L476.6 331.9 L477.1 327.4 L477.6 336.4 L478.1 329.3 L478.6 329.8 L479.1 332.1 L479.4 328.2 L479.9 332.5 L480.4 331.8 L480.8 328.7 L481.3 330.1 L481.8 332.1 L482.1 324.0 L482.6 330.9 L483.1 331.6 L483.3 331.8 L483.8 330.9 L484.3 330.2 L484.6 332.4 L485.1 335.4 L485.6 336.0 L485.8 331.8 L486.3 330.2 L486.8 336.6 L486.9 334.3 L487.4 333.4 L487.9 330.1 L488.1 336.1 L488.6 334.9 L489.2 331.1 L489.7 330.0 L490.3 332.9 L490.8 333.5 L491.3 330.0 L491.8 332.0 L492.4 334.7 L492.9 331.1 L493.4 333.4 L493.9 337.2 L494.4 332.4 L494.9 332.3 L495.3 329.1 L495.8 333.7 L496.3 333.0 L496.8 332.6 L497.2 332.5 L497.7 331.6 L498.1 333.9 L498.6 331.0 L499.0 336.2 L499.5 333.2 L499.9 336.0 L500.4 332.1 L500.7 327.7 L501.2 330.4 L501.6 331.1 L502.1 332.5 L502.4 337.6 L502.9 338.3 L503.2 332.0 L503.7 334.3 L504.0 326.6 L504.5 333.5 L504.8 336.3 L505.3 333.9 L505.6 334.6 L506.1 331.8 L506.3 339.2 L506.8 332.6 L507.1 331.7 L507.6 332.0 L507.8 333.5 L508.3 331.8 L508.5 329.8 L509.0 331.6 L509.2 332.3 L509.7 332.5 L509.9 336.5 L510.4 331.1 L510.6 333.1 L511.1 333.5 L511.3 336.5 L511.8 333.4 L512.0 329.4 L512.5 332.3 L512.6 335.0 L513.1 335.9 L513.3 331.1 L513.8 332.7 L513.9 331.8 L514.4 330.6 L514.5 328.1 L515.0 330.2 L515.2 331.1 L515.8 332.4 L516.4 330.6 L517.0 328.4 L517.6 329.8 L518.2 331.1 L518.7 327.6 L519.3 333.5 L519.9 338.2 L520.4 328.0 L521.0 330.1 L521.5 329.4 L522.0 331.4 L522.6 332.7 L523.1 329.6 L523.6 330.1 L524.1 331.7 L524.6 328.5 L525.1 337.4 L525.6 331.9 L526.1 328.2 L526.6 333.0 L527.1 331.5 L527.5 327.3 L528.0 327.3 L528.5 327.9 L528.9 332.2 L529.4 330.2 L529.8 334.9 L530.3 329.9 L530.7 327.4 L531.1 329.5 L531.6 328.4 L532.0 329.2 L532.4 326.2 L532.9 325.7 L533.3 327.5 L533.7 328.2 L534.1 325.2 L534.5 325.8 L534.9 327.9 L535.3 329.2 L535.7 328.4 L536.1 328.7 L536.5 325.9 L536.9 327.4 L537.2 324.2 L537.6 324.5 L538.0 325.8 L538.4 328.5 L538.7 323.5 L539.1 323.6 L539.5 331.9 L539.8 329.8 L540.2 325.6 L540.5 325.1 L540.9 325.5 L541.2 325.3 L541.6 324.5 L541.9 327.3 L542.3 326.6 L542.8 328.7 L543.3 326.5 L543.8 324.6 L544.3 323.0 L544.8 323.8 L545.3 324.3 L545.5 325.4 L546.0 322.5 L546.5 327.2 L547.0 321.3 L547.5 320.7 L548.0 322.7 L548.6 325.2 L549.1 321.5 L549.6 321.0 L550.1 326.6 L550.6 316.5 L551.1 321.0 L551.5 321.3 L552.0 320.8 L552.5 318.5 L553.0 320.5 L553.5 321.9 L554.0 321.6 L554.2 321.8 L554.7 325.1 L555.2 322.2 L555.7 325.1 L556.2 318.1 L556.7 320.6 L557.2 316.7 L557.7 317.7 L558.2 319.5 L558.7 318.6 L559.1 318.6 L559.6 317.8 L560.1 323.7 L560.6 319.2 L561.1 315.3 L561.4 320.6 L561.9 317.5 L562.4 321.3 L562.9 318.5 L563.4 317.8 L563.6 316.9 L564.1 318.8 L564.6 324.9 L565.1 319.9 L565.6 324.2 L566.1 318.3 L566.6 318.0 L567.1 315.2 L567.6 317.0 L568.1 318.3 L568.6 320.3 L569.1 317.7 L569.5 315.3 L570.0 318.0 L570.5 318.1 L571.0 319.3 L571.4 320.7 L571.9 317.2 L572.4 321.5 L572.9 316.2 L573.1 320.0 L573.6 316.1 L574.1 315.9 L574.6 311.1 L574.8 315.9 L575.3 317.0 L575.8 316.9 L576.3 315.3 L576.4 314.3 L576.9 315.2 L577.4 311.2 L578.0 315.9 L578.5 314.3 L579.0 311.3 L579.5 313.4 L580.0 315.1 L580.5 317.3 L581.0 312.4 L581.5 320.5 L582.0 310.5 L582.4 310.5 L582.9 314.6 L583.4 315.8 L583.8 310.1 L584.3 318.2 L584.8 313.2 L585.1 313.7 L585.6 313.8 L586.1 313.4 L586.4 310.4 L586.9 308.0 L587.4 311.6 L587.7 308.8 L588.2 304.4 L588.7 315.6 L588.9 309.2 L589.4 314.6 L589.9 309.4 L590.1 308.0 L590.6 310.4 L591.1 305.1 L591.3 306.8 L591.8 307.9 L592.3 309.9 L592.4 307.9 L592.9 307.4 L593.5 310.1 L594.0 307.5 L594.6 308.9 L595.1 310.3 L595.7 302.2 L596.2 305.8 L596.7 307.6 L597.2 305.5 L597.7 303.3 L598.2 306.4 L598.7 305.2 L599.2 307.4 L599.7 310.8 L600.2 304.3 L600.6 302.5 L601.1 302.7 L601.6 304.0 L602.1 306.0 L602.5 305.5 L603.0 302.7 L603.4 300.4 L603.9 308.0 L604.2 300.4 L604.7 305.0 L605.1 307.5 L605.6 303.6 L605.9 303.4 L606.4 308.0 L606.8 300.9 L607.3 305.1 L607.6 306.3 L608.1 307.2 L608.4 302.7 L608.9 304.8 L609.2 302.5 L609.7 307.5 L609.9 305.5 L610.4 304.6 L610.7 307.7 L611.2 301.3 L611.4 310.3 L611.9 303.3 L612.2 306.5 L612.7 306.1 L612.9 306.7 L613.4 304.3 L613.6 309.1 L614.1 312.9 L614.3 310.1 L614.8 309.6 L615.0 313.0 L615.5 308.7 L615.7 311.3 L616.2 308.9 L616.3 310.5 L616.8 310.9 L617.0 314.9 L617.5 313.5 L617.6 314.0 L618.1 315.9 L618.3 314.1 L618.8 312.4 L618.9 318.8 L619.4 316.4 L619.5 316.2 L620.1 320.3 L620.8 322.0 L621.4 319.3 L621.9 320.7 L622.5 324.6 L623.1 323.0 L623.7 327.3 L624.2 327.4 L624.8 324.6 L625.3 328.4 L625.9 328.7 L626.4 333.9 L626.9 334.0 L627.5 337.2 L628.0 336.8 L628.5 332.6 L629.0 336.3 L629.5 339.0 L630.0 346.3 L630.5 341.0 L630.9 344.4 L631.4 348.4 L631.9 343.7 L632.4 346.1 L632.8 349.8 L633.3 349.9 L633.7 352.5 L634.2 352.1 L634.6 354.8 L635.1 353.2 L635.5 359.7 L635.9 359.7 L636.4 358.6 L636.8 359.3 L637.2 356.7 L637.6 366.5 L638.1 359.3 L638.5 365.0 L638.9 366.9 L639.3 369.6 L639.7 365.7 L640.1 371.8 L640.5 366.8 L640.8 371.6 L641.2 368.8 L641.6 374.4 L642.0 372.1 L642.4 377.8 L642.7 377.6 L643.1 378.4 L643.5 379.6 L643.8 384.8 L644.2 379.9 L644.5 385.7 L644.9 383.3 L645.3 385.5 L645.6 387.9 L645.9 392.6 L646.3 391.4 L646.6 392.4 L647.1 391.5 L647.6 397.4 L648.1 398.3 L648.6 398.6 L649.1 402.2 L649.6 403.3 L649.9 402.9 L650.4 402.6 L650.9 408.7 L651.4 407.0 L651.9 411.4 L652.4 412.7 L653.0 409.4 L653.5 416.4 L654.0 414.9 L654.5 412.3 L655.0 419.7 L655.5 418.5 L655.8 420.1 L656.3 417.4 L656.8 420.4 L657.3 426.9 L657.8 422.9 L658.3 424.9 L658.5 424.0 L659.0 424.2 L659.5 424.5 L660.0 425.5 L660.5 427.0 L661.1 429.0 L661.6 422.5 L662.1 425.4 L662.6 427.4 L663.1 426.6 L663.5 431.1 L664.0 431.6 L664.5 430.8 L665.0 429.3 L665.5 431.4 L665.8 425.3 L666.3 429.5 L666.8 434.9 L667.3 438.2 L667.8 435.1 L667.9 431.7 L668.4 429.1 L668.9 433.1 L669.4 434.4 L670.0 428.5 L670.5 436.0 L671.0 430.0 L671.5 431.2 L672.0 432.1 L672.5 431.5 L673.0 436.7 L673.5 430.6 L673.9 435.8 L674.4 429.2 L674.9 437.4 L675.4 430.6 L675.7 432.0 L676.2 436.1 L676.7 432.0 L677.2 432.9 L677.5 431.3 L678.0 432.7 L678.5 433.1 L679.0 431.3 L679.2 430.9 L679.7 431.6 L680.2 431.9 L680.7 432.2 L680.8 431.0 L681.3 433.2 L681.8 432.5 L682.4 428.3 L682.9 429.3 L683.4 433.7 L683.9 430.0 L684.4 429.5 L684.9 433.8 L685.4 428.1 L685.9 431.5 L686.4 427.6 L686.8 430.2 L687.3 424.6 L687.8 431.4 L688.2 428.9 L688.7 429.1 L689.2 425.1 L689.5 429.5 L690.0 430.1 L690.5 426.1 L690.8 429.1 L691.3 429.6 L691.8 423.4 L692.1 424.9 L692.6 434.6 L693.1 425.5 L693.3 430.5 L693.8 427.4 L694.3 425.6 L694.5 424.2 L695.0 421.6 L695.5 424.4 L695.7 425.8 L696.2 426.4 L696.7 426.5 L696.8 423.3 L697.3 421.4 L697.9 425.2 L698.4 428.5 L699.0 422.2 L699.5 425.2 L700.1 424.3 L700.6 423.0 L701.1 424.8 L701.6 423.4 L702.1 422.3 L702.6 422.9 L703.1 418.1 L703.6 422.2 L704.1 419.4 L704.6 417.4 L705.0 421.4 L705.5 417.6 L705.9 419.7 L706.4 420.5 L706.8 420.5 L707.3 424.1 L707.7 411.7 L708.2 428.0 L708.6 415.3 L709.1 422.9 L709.5 421.0 L710.0 417.1 L710.3 417.5 L710.8 417.5 L711.1 417.8 L711.6 430.2 L711.9 415.3 L712.4 424.6 L712.7 417.9 L713.2 414.2 L713.5 419.7 L714.0 420.4 L714.3 417.9 L714.8 414.0 L715.1 414.1 L715.6 415.2 L715.8 421.6 L716.3 420.7 L716.5 414.2 L717.0 416.6 L717.3 411.3 L717.8 420.1 L718.0 422.5 L718.5 417.2 L718.7 418.4 L719.2 418.4 L719.4 417.5 L719.9 409.4 L720.0 402.7 L720.5 417.1 L720.7 412.4 L721.2 418.3 L721.4 413.7 L721.9 422.7 L722.0 423.2 L722.5 416.9 L722.6 417.9 L723.1 418.7 L723.3 420.1 L723.8 415.8 L723.9 418.3 L724.5 420.3 L725.1 422.9 L725.7 417.9 L726.3 422.6 L726.9 427.3 L727.5 421.6 L728.0 417.9 L728.6 418.0 L729.1 422.6 L729.7 416.7 L730.2 419.2 L730.8 420.2 L731.3 420.4 L731.8 421.1 L732.3 416.5 L732.8 413.3 L733.4 413.4 L733.9 418.6 L734.3 419.3 L734.8 418.8 L735.3 418.0 L735.8 419.2 L736.3 413.3 L736.7 417.3 L737.2 417.7 L737.7 419.9 L738.1 419.9 L738.6 416.8 L739.0 418.6 L739.4 419.5 L739.9 420.4 L740.3 423.0 L740.7 419.9 L741.2 425.1 L741.6 419.1 L742.0 421.4 L742.4 426.0 L742.8 424.7 L743.2 423.5 L743.6 425.4 L744.0 420.4 L744.4 424.8 L744.8 422.9 L745.2 427.2 L745.6 425.4 L746.0 433.7 L746.4 426.2 L746.7 426.0 L747.1 427.7 L747.5 424.2"/>
<path d="M719.4 277.5V418.0" stroke-width="4"/>
<path d="M576.0 303.5V316.0" stroke-width="4"/>
<path d="M597.5 294.0V310.0" stroke-width="4"/>
<path d="M608.0 294.0V305.0" stroke-width="4"/>
</g>
<g stroke="#00ff00" stroke-width="4" fill="none" stroke-linejoin="round" stroke-linecap="round">
<path d="M126.4 159.1 L128.1 156.8 L131.1 153.2 L132.8 150.4 L134.0 152.9 L136.7 155.6 L137.9 158.0 L139.2 160.0 L141.6 162.7 L143.0 164.4 L143.9 163.0 L146.1 163.7 L148.2 161.7 L148.2 161.4 L149.2 164.1 L150.2 163.5 L151.2 162.7 L152.1 163.9 L153.1 164.8 L153.3 164.1 L153.9 164.6 L154.9 166.0 L155.6 168.9 L156.6 167.6 L157.3 169.1 L158.3 171.1 L158.4 170.6 L159.0 171.4 L160.0 164.5 L160.5 162.8 L161.0 160.3 L161.5 158.7 L162.1 163.4 L163.1 164.4 L163.5 166.1 L163.5 164.1 L164.5 165.9 L165.0 165.8 L166.0 166.9 L166.3 167.9 L167.3 171.1 L167.7 168.3 L168.7 171.8 L168.7 169.5 L169.0 171.4 L170.2 167.6 L171.5 175.2 L172.7 175.3 L173.8 173.4 L173.8 171.3 L175.0 170.5 L176.1 170.1 L177.2 170.2 L178.2 167.6 L178.9 168.5 L179.3 170.0 L180.3 169.5 L181.3 172.2 L182.2 170.9 L183.2 173.1 L184.0 173.4 L184.1 174.5 L185.0 172.9 L185.9 178.2 L186.8 181.9 L187.6 179.7 L187.9 181.2 L188.5 180.2 L189.3 178.1 L190.1 182.3 L190.9 180.9 L191.7 177.1 L192.5 173.7 L193.0 179.0 L193.2 179.8 L194.0 181.2 L194.7 182.4 L195.4 181.4 L196.1 183.4 L196.8 186.2 L196.8 188.2 L197.5 183.5 L198.2 189.4 L198.9 185.8 L199.5 188.1 L200.2 187.1 L200.8 186.3 L201.4 193.3 L201.9 190.5 L202.1 188.0 L202.7 188.3 L203.3 185.1 L203.9 184.2 L204.5 185.7 L205.1 183.4 L205.6 182.3 L205.8 181.8 L206.2 179.2 L206.8 183.5 L207.3 187.2 L207.9 191.4 L208.4 190.9 L208.9 187.1 L209.5 197.6 L209.6 195.4 L210.0 195.0 L210.5 193.3 L211.0 195.9 L211.5 196.9 L212.0 192.5 L212.5 195.2 L213.0 202.2 L213.5 198.0 L214.0 203.1 L214.4 199.6 L214.8 198.9 L214.9 198.2 L215.4 196.2 L215.8 201.3 L216.3 193.0 L216.7 197.0 L217.2 195.5 L217.6 196.9 L218.0 198.5 L218.5 194.8 L218.9 198.0 L219.3 193.6 L219.8 195.3 L220.2 190.6 L220.6 196.3 L221.0 193.6 L221.2 195.7 L221.4 197.8 L221.8 194.6 L222.2 195.4 L222.6 201.7 L223.0 202.8 L223.4 192.2 L223.8 204.9 L224.1 207.1 L224.5 202.9 L224.9 205.8 L225.0 204.7 L225.3 213.5 L225.6 209.5 L226.0 206.0 L226.4 209.2 L226.7 206.9 L227.1 205.1 L227.4 212.2 L227.8 207.2 L228.1 210.5 L228.5 206.8 L228.8 207.4 L229.2 206.4 L230.0 209.3 L232.4 215.8 L233.1 214.9 L235.5 207.1 L236.9 202.6 L238.4 212.9 L240.8 217.5 L241.1 219.8 L243.6 225.9 L243.8 225.3 L246.0 219.5 L246.9 217.2 L248.3 222.6 L250.5 225.3 L250.7 225.3 L252.5 226.5 L254.5 223.8 L254.6 221.6 L256.4 227.3 L258.3 226.0 L258.4 228.5 L260.0 227.4 L261.7 228.8 L262.3 231.6 L263.3 231.5 L264.9 230.3 L266.4 241.1 L266.9 235.7 L267.9 233.4 L269.2 223.0 L269.3 224.7 L270.7 239.2 L270.7 239.5 L272.0 230.8 L273.3 244.2 L274.6 239.4 L275.1 237.7 L275.6 239.8 L275.8 236.4 L276.1 240.7 L276.3 241.2 L276.8 241.6 L277.0 246.5 L277.5 242.6 L278.0 251.1 L278.2 244.2 L278.7 249.6 L279.2 246.4 L279.2 241.4 L279.3 249.9 L279.8 248.9 L280.4 249.7 L280.9 244.9 L281.5 235.7 L282.0 249.9 L282.6 246.0 L283.0 247.0 L283.1 242.1 L283.6 248.4 L284.1 249.4 L284.6 249.8 L285.1 245.1 L285.6 248.4 L286.1 247.4 L286.6 253.7 L286.9 251.7 L287.1 253.6 L287.5 251.0 L288.0 252.3 L288.5 249.5 L289.0 254.6 L289.4 252.6 L289.9 252.4 L290.3 253.0 L290.8 246.3 L291.1 255.7 L291.5 255.0 L291.6 260.0 L292.0 256.6 L292.5 260.1 L292.8 254.2 L293.3 258.7 L293.7 260.4 L294.2 258.4 L294.5 255.2 L295.0 263.0 L295.3 264.2 L295.8 261.8 L296.1 260.0 L296.1 261.8 L296.6 261.6 L296.8 257.1 L297.3 258.1 L297.6 256.1 L298.1 256.8 L298.3 259.0 L298.8 261.8 L299.1 264.7 L299.6 257.0 L299.8 257.3 L300.3 259.2 L300.5 263.1 L300.7 258.0 L301.0 261.9 L301.2 254.0 L301.7 257.1 L301.9 259.1 L302.4 262.9 L302.6 258.4 L303.1 262.3 L303.2 259.4 L303.7 259.1 L303.9 263.9 L304.4 266.5 L304.5 263.6 L305.0 263.2 L305.2 264.7 L305.3 264.3 L305.7 266.8 L305.8 259.6 L306.3 265.2 L306.4 258.5 L307.0 266.1 L307.7 268.0 L308.3 260.0 L308.8 264.6 L309.4 267.7 L310.0 263.9 L310.6 271.6 L311.1 268.2 L311.4 268.6 L311.7 274.3 L312.2 266.6 L312.8 270.5 L313.3 270.7 L313.8 261.6 L314.4 265.5 L314.9 264.6 L315.4 262.8 L315.9 274.1 L316.4 264.6 L316.9 272.0 L317.4 270.0 L317.6 267.0 L317.8 268.1 L318.3 273.4 L318.8 277.6 L319.3 272.2 L319.7 270.5 L320.2 274.4 L320.6 269.9 L321.1 272.4 L321.5 272.4 L322.0 266.6 L322.2 272.1 L322.4 282.9 L322.8 277.1 L323.3 277.8 L323.7 271.3 L324.1 265.6 L324.5 282.5 L325.0 273.2 L325.4 274.4 L325.8 273.7 L326.2 269.4 L326.6 274.2 L327.0 272.3 L327.4 280.8 L327.7 279.9 L328.1 281.2 L328.5 284.2 L328.9 281.2 L329.3 271.5 L329.6 278.3 L329.9 276.4 L330.0 273.8 L330.4 269.9 L330.7 273.8 L331.1 286.2 L331.4 275.1 L331.8 275.5 L332.2 288.0 L332.5 275.2 L332.8 285.8 L333.2 282.7 L333.5 279.1 L334.0 278.6 L334.5 280.1 L335.0 280.3 L335.5 280.2 L336.0 284.1 L336.5 280.9 L336.8 281.2 L337.3 282.9 L337.8 282.2 L338.3 283.1 L338.8 283.6 L339.3 283.7 L339.9 283.2 L340.4 284.3 L340.9 283.6 L341.4 285.0 L341.9 284.8 L342.4 285.3 L342.7 284.4 L343.2 283.8 L343.7 287.0 L344.2 284.8 L344.7 287.1 L345.2 286.8 L345.4 287.3 L345.9 285.3 L346.4 289.8 L346.9 288.6 L347.4 286.7 L348.0 287.5 L348.5 290.9 L349.0 288.5 L349.5 289.1 L350.0 288.8 L350.4 289.0 L350.9 286.9 L351.4 291.1 L351.9 288.8 L352.4 292.6 L352.7 293.7 L353.2 288.8 L353.7 294.0 L354.2 290.4 L354.7 294.4 L354.8 292.4 L355.3 293.7 L355.8 291.9 L356.3 293.6 L356.9 293.1 L357.4 293.1 L357.9 293.9 L358.4 296.1 L358.9 294.9 L359.4 295.6 L359.9 295.9 L360.4 293.4 L360.8 294.3 L361.3 296.6 L361.8 296.8 L362.3 297.9 L362.6 297.9 L363.1 299.6 L363.6 302.1 L364.1 297.3 L364.4 295.4 L364.9 299.8 L365.4 298.3 L365.9 301.1 L366.1 300.9 L366.6 300.8 L367.1 298.6 L367.6 302.5 L367.7 300.7 L368.2 302.3 L368.7 301.3 L369.3 302.7 L369.8 299.3 L370.3 304.6 L370.8 302.6 L371.3 302.5 L371.8 301.9 L372.3 302.9 L372.8 303.9 L373.3 302.7 L373.7 302.7 L374.2 305.6 L374.7 304.6 L375.1 304.4 L375.6 306.9 L376.1 303.6 L376.4 306.8 L376.9 303.2 L377.4 307.3 L377.7 306.9 L378.2 308.2 L378.7 304.5 L379.0 307.1 L379.5 307.0 L380.0 306.3 L380.2 308.8 L380.7 310.3 L381.2 309.3 L381.4 310.8 L381.9 304.9 L382.4 307.1 L382.6 310.5 L383.1 308.3 L383.6 308.6 L383.7 307.9 L384.2 313.5 L384.8 310.8 L385.3 310.3 L385.9 309.9 L386.4 313.5 L387.0 313.6 L387.5 311.8 L388.0 312.1 L388.5 316.1 L389.0 315.3 L389.5 313.2 L390.0 317.3 L390.5 317.6 L391.0 314.1 L391.5 317.1 L391.9 315.5 L392.4 312.3 L392.8 319.5 L393.3 317.8 L393.7 317.8 L394.2 316.5 L394.6 318.9 L395.1 319.5 L395.5 317.1 L396.0 319.0 L396.4 318.5 L396.9 320.9 L397.2 318.6 L397.7 320.9 L398.0 320.6 L398.5 317.9 L398.8 318.8 L399.3 317.2 L399.6 318.9 L400.1 322.6 L400.4 320.6 L400.9 320.2 L401.2 318.1 L401.7 322.2 L402.0 322.1 L402.5 322.9 L402.7 321.2 L403.2 320.5 L403.4 321.8 L403.9 324.3 L404.2 322.1 L404.7 322.9 L404.9 322.3 L405.4 322.1 L405.6 319.8 L406.1 321.3 L406.3 319.3 L406.8 322.0 L406.9 320.6 L407.4 323.0 L407.6 321.6 L408.1 323.7 L408.3 323.5 L408.8 323.2 L408.9 323.3 L409.4 325.1 L409.5 324.8 L410.0 320.5 L410.2 324.9 L410.7 329.5 L410.8 323.4 L411.4 325.0 L412.0 319.1 L412.6 323.3 L413.2 325.5 L413.8 325.5 L414.4 328.6 L414.9 326.1 L415.5 324.7 L416.0 323.6 L416.6 325.5 L417.1 328.2 L417.7 326.3 L418.2 325.1 L418.7 321.4 L419.2 328.3 L419.7 326.9 L420.3 326.4 L420.8 329.3 L421.2 330.6 L421.7 330.4 L422.2 329.3 L422.7 328.7 L423.2 324.7 L423.6 327.4 L424.1 327.3 L424.6 325.3 L425.0 329.6 L425.5 330.5 L425.9 325.8 L426.3 328.7 L426.8 329.0 L427.2 327.5 L427.6 327.8 L428.1 329.3 L428.5 328.0 L428.9 324.6 L429.3 329.2 L429.7 329.6 L430.1 330.0 L430.5 328.2 L430.9 328.7 L431.3 326.4 L431.7 329.2 L432.1 331.0 L432.5 328.0 L432.9 330.5 L433.3 331.4 L433.6 332.2 L434.0 330.4 L434.4 325.4 L434.7 327.0 L435.1 333.4 L435.5 332.2 L435.8 331.9 L436.2 327.3 L436.5 336.7 L436.9 332.6 L437.2 328.7 L437.6 329.0 L437.9 330.6 L438.4 329.4 L438.9 329.7 L439.4 335.5 L439.9 331.2 L440.4 326.8 L440.9 332.2 L441.2 332.0 L441.7 331.4 L442.2 333.7 L442.7 329.8 L443.2 331.6 L443.7 329.0 L444.2 328.4 L444.7 332.7 L445.2 333.3 L445.7 330.1 L446.2 330.7 L446.7 332.5 L447.1 334.1 L447.6 329.6 L448.1 327.5 L448.6 330.3 L449.1 329.3 L449.6 335.6 L449.8 329.2 L450.3 332.7 L450.8 326.1 L451.3 336.1 L451.8 333.2 L452.3 329.5 L452.8 329.4 L453.3 334.6 L453.8 329.9 L454.3 330.7 L454.7 329.4 L455.2 332.6 L455.7 333.7 L456.2 326.5 L456.7 327.9 L457.0 330.7 L457.5 329.3 L458.0 330.9 L458.5 334.0 L459.0 331.4 L459.2 329.8 L459.7 328.4 L460.2 328.6 L460.7 324.6 L461.3 331.3 L461.8 330.7 L462.3 327.4 L462.8 332.1 L463.3 324.5 L463.8 329.0 L464.3 326.0 L464.8 333.3 L465.2 328.1 L465.7 328.5 L466.2 327.4 L466.7 326.3 L467.0 328.6 L467.5 326.6 L468.0 331.5 L468.5 327.3 L468.7 328.1 L469.2 329.3 L469.7 328.2 L470.2 330.0 L470.4 330.7 L470.9 328.6 L471.4 325.0 L471.9 328.6 L472.1 327.4 L472.6 329.5 L473.1 332.8 L473.6 325.3 L474.1 329.2 L474.6 329.6 L475.2 331.9 L475.7 331.3 L476.2 333.7 L476.6 330.5 L477.1 335.5 L477.6 332.8 L478.1 333.0 L478.6 333.8 L479.1 329.5 L479.4 332.2 L479.9 332.1 L480.4 333.4 L480.8 327.5 L481.3 330.6 L481.8 333.1 L482.1 332.7 L482.6 332.7 L483.1 331.5 L483.3 329.5 L483.8 329.7 L484.3 333.1 L484.6 333.8 L485.1 333.1 L485.6 332.3 L485.8 332.4 L486.3 331.0 L486.8 333.4 L486.9 331.2 L487.4 335.7 L487.9 332.2 L488.1 329.1 L488.6 332.9 L489.2 332.5 L489.7 333.0 L490.3 332.0 L490.8 331.7 L491.3 335.0 L491.8 334.0 L492.4 330.6 L492.9 332.0 L493.4 335.2 L493.9 331.3 L494.4 332.4 L494.9 329.7 L495.3 339.7 L495.8 335.2 L496.3 331.5 L496.8 334.9 L497.2 330.3 L497.7 332.9 L498.1 330.7 L498.6 334.9 L499.0 334.2 L499.5 333.2 L499.9 338.5 L500.4 335.3 L500.7 334.7 L501.2 333.1 L501.6 331.3 L502.1 332.3 L502.4 331.6 L502.9 329.0 L503.2 330.3 L503.7 329.8 L504.0 334.0 L504.5 331.4 L504.8 331.6 L505.3 327.2 L505.6 332.2 L506.1 331.5 L506.3 334.6 L506.8 330.9 L507.1 331.3 L507.6 332.7 L507.8 332.8 L508.3 328.6 L508.5 328.7 L509.0 333.3 L509.2 332.2 L509.7 331.5 L509.9 334.9 L510.4 332.5 L510.6 328.6 L511.1 331.6 L511.3 335.4 L511.8 326.9 L512.0 333.7 L512.5 334.1 L512.6 338.8 L513.1 333.0 L513.3 331.5 L513.8 335.1 L513.9 333.6 L514.4 328.7 L514.5 334.3 L515.0 336.3 L515.2 330.3 L515.8 332.2 L516.4 331.7 L517.0 331.8 L517.6 329.7 L518.2 337.1 L518.7 332.1 L519.3 333.5 L519.9 330.3 L520.4 329.7 L521.0 331.0 L521.5 331.5 L522.0 328.2 L522.6 336.4 L523.1 331.8 L523.6 332.0 L524.1 333.3 L524.6 329.0 L525.1 331.6 L525.6 328.2 L526.1 325.0 L526.6 333.1 L527.1 329.6 L527.5 327.1 L528.0 326.6 L528.5 324.3 L528.9 326.8 L529.4 331.0 L529.8 333.1 L530.3 328.1 L530.7 334.0 L531.1 326.8 L531.6 329.4 L532.0 326.1 L532.4 328.5 L532.9 330.6 L533.3 332.5 L533.7 329.7 L534.1 327.0 L534.5 328.5 L534.9 327.6 L535.3 321.9 L535.7 330.8 L536.1 324.2 L536.5 330.8 L536.9 324.7 L537.2 326.1 L537.6 321.9 L538.0 329.5 L538.4 327.2 L538.7 329.2 L539.1 326.9 L539.5 329.5 L539.8 331.0 L540.2 326.3 L540.5 327.4 L540.9 325.8 L541.2 325.4 L541.6 329.0 L541.9 328.5 L542.3 328.7 L542.8 325.6 L543.3 319.7 L543.8 328.3 L544.3 325.5 L544.8 324.8 L545.3 323.1 L545.5 326.3 L546.0 323.4 L546.5 324.6 L547.0 323.9 L547.5 324.5 L548.0 325.2 L548.6 321.7 L549.1 324.8 L549.6 321.7 L550.1 324.8 L550.6 322.0 L551.1 322.1 L551.5 323.8 L552.0 321.8 L552.5 320.6 L553.0 319.3 L553.5 325.7 L554.0 324.0 L554.2 322.7 L554.7 319.1 L555.2 325.0 L555.7 325.7 L556.2 322.3 L556.7 319.7 L557.2 326.0 L557.7 317.5 L558.2 321.1 L558.7 324.0 L559.1 328.3 L559.6 322.4 L560.1 318.8 L560.6 325.7 L561.1 321.7 L561.4 319.9 L561.9 324.0 L562.4 323.0 L562.9 319.5 L563.4 317.5 L563.6 316.1 L564.1 320.2 L564.6 317.7 L565.1 324.4 L565.6 317.6 L566.1 314.1 L566.6 315.9 L567.1 314.8 L567.6 317.3 L568.1 317.4 L568.6 318.6 L569.1 317.4 L569.5 318.7 L570.0 316.8 L570.5 321.1 L571.0 316.7 L571.4 320.3 L571.9 318.0 L572.4 317.1 L572.9 315.1 L573.1 312.4 L573.6 312.5 L574.1 314.0 L574.6 320.7 L574.8 315.6 L575.3 312.6 L575.8 319.0 L576.3 313.8 L576.4 312.7 L576.9 318.4 L577.4 316.0 L578.0 310.4 L578.5 310.2 L579.0 310.4 L579.5 313.4 L580.0 316.9 L580.5 318.1 L581.0 308.9 L581.5 314.4 L582.0 315.3 L582.4 310.8 L582.9 311.3 L583.4 310.4 L583.8 313.3 L584.3 310.9 L584.8 311.1 L585.1 305.0 L585.6 312.6 L586.1 312.3 L586.4 309.9 L586.9 309.6 L587.4 310.6 L587.7 311.8 L588.2 308.6 L588.7 309.5 L588.9 309.3 L589.4 312.7 L589.9 310.9 L590.1 309.7 L590.6 309.5 L591.1 309.4 L591.3 306.7 L591.8 308.9 L592.3 310.8 L592.4 309.8 L592.9 305.3 L593.5 307.6 L594.0 304.7 L594.6 309.5 L595.1 307.9 L595.7 309.2 L596.2 304.9 L596.7 305.4 L597.2 308.1 L597.7 308.8 L598.2 301.2 L598.7 311.1 L599.2 304.2 L599.7 303.8 L600.2 305.6 L600.6 305.5 L601.1 303.3 L601.6 307.3 L602.1 302.5 L602.5 303.4 L603.0 309.3 L603.4 298.3 L603.9 305.2 L604.2 307.6 L604.7 303.5 L605.1 308.6 L605.6 305.4 L605.9 305.0 L606.4 304.0 L606.8 305.0 L607.3 304.6 L607.6 306.7 L608.1 310.6 L608.4 300.5 L608.9 304.5 L609.2 305.8 L609.7 305.1 L609.9 309.6 L610.4 303.7 L610.7 304.9 L611.2 307.5 L611.4 305.0 L611.9 306.7 L612.2 306.8 L612.7 306.6 L612.9 304.1 L613.4 309.1 L613.6 309.7 L614.1 314.1 L614.3 309.1 L614.8 304.4 L615.0 311.5 L615.5 315.1 L615.7 308.9 L616.2 311.7 L616.3 308.7 L616.8 307.5 L617.0 312.5 L617.5 311.8 L617.6 315.0 L618.1 316.8 L618.3 316.0 L618.8 314.9 L618.9 317.2 L619.4 313.9 L619.5 313.4 L620.1 324.3 L620.8 323.8 L621.4 318.7 L621.9 320.7 L622.5 323.6 L623.1 326.9 L623.7 320.1 L624.2 325.1 L624.8 325.9 L625.3 331.2 L625.9 330.5 L626.4 328.0 L626.9 332.7 L627.5 336.6 L628.0 333.7 L628.5 335.2 L629.0 336.7 L629.5 336.7 L630.0 338.5 L630.5 342.2 L630.9 339.8 L631.4 343.4 L631.9 346.2 L632.4 344.8 L632.8 344.2 L633.3 350.3 L633.7 348.0 L634.2 351.7 L634.6 357.7 L635.1 353.9 L635.5 359.5 L635.9 353.1 L636.4 358.1 L636.8 351.4 L637.2 360.8 L637.6 363.3 L638.1 364.9 L638.5 367.3 L638.9 363.1 L639.3 368.4 L639.7 365.6 L640.1 368.1 L640.5 368.8 L640.8 369.8 L641.2 370.7 L641.6 373.5 L642.0 374.1 L642.4 376.7 L642.7 376.1 L643.1 380.3 L643.5 380.2 L643.8 381.7 L644.2 380.9 L644.5 381.0 L644.9 383.7 L645.3 387.2 L645.6 387.7 L645.9 382.0 L646.3 388.8 L646.6 391.3 L647.1 391.6 L647.6 394.6 L648.1 397.8 L648.6 398.1 L649.1 402.6 L649.6 399.8 L649.9 401.8 L650.4 401.2 L650.9 399.7 L651.4 403.1 L651.9 401.0 L652.4 403.3 L653.0 406.6 L653.5 411.1 L654.0 413.0 L654.5 417.7 L655.0 413.8 L655.5 417.9 L655.8 420.7 L656.3 421.7 L656.8 416.9 L657.3 417.0 L657.8 422.9 L658.3 425.6 L658.5 429.0 L659.0 432.3 L659.5 426.1 L660.0 425.7 L660.5 421.6 L661.1 428.2 L661.6 425.7 L662.1 425.2 L662.6 426.6 L663.1 432.2 L663.5 428.0 L664.0 421.7 L664.5 428.2 L665.0 430.1 L665.5 428.8 L665.8 432.1 L666.3 430.1 L666.8 434.7 L667.3 429.3 L667.8 432.8 L667.9 433.0 L668.4 425.6 L668.9 433.9 L669.4 435.4 L670.0 428.7 L670.5 431.2 L671.0 432.3 L671.5 429.9 L672.0 435.9 L672.5 437.2 L673.0 433.3 L673.5 434.0 L673.9 427.0 L674.4 432.0 L674.9 432.6 L675.4 431.1 L675.7 432.8 L676.2 431.8 L676.7 433.0 L677.2 425.9 L677.5 434.1 L678.0 430.3 L678.5 430.7 L679.0 430.2 L679.2 429.9 L679.7 431.8 L680.2 432.6 L680.7 430.4 L680.8 430.4 L681.3 432.3 L681.8 432.3 L682.4 430.4 L682.9 432.9 L683.4 430.3 L683.9 431.3 L684.4 432.8 L684.9 430.8 L685.4 431.3 L685.9 432.5 L686.4 429.8 L686.8 421.5 L687.3 431.9 L687.8 428.6 L688.2 426.3 L688.7 424.0 L689.2 430.2 L689.5 430.0 L690.0 430.0 L690.5 425.9 L690.8 425.4 L691.3 428.0 L691.8 426.1 L692.1 426.7 L692.6 427.3 L693.1 427.6 L693.3 428.0 L693.8 428.0 L694.3 430.8 L694.5 420.5 L695.0 424.0 L695.5 421.3 L695.7 423.4 L696.2 424.3 L696.7 427.7 L696.8 422.7 L697.3 427.7 L697.9 425.9 L698.4 425.8 L699.0 420.5 L699.5 424.8 L700.1 425.9 L700.6 426.2 L701.1 425.1 L701.6 423.6 L702.1 426.2 L702.6 421.2 L703.1 423.5 L703.6 423.0 L704.1 421.5 L704.6 420.1 L705.0 421.7 L705.5 416.4 L705.9 418.0 L706.4 420.2 L706.8 419.9 L707.3 425.9 L707.7 419.1 L708.2 421.3 L708.6 420.4 L709.1 416.7 L709.5 418.6 L710.0 415.4 L710.3 418.3 L710.8 423.4 L711.1 411.5 L711.6 418.1 L711.9 421.1 L712.4 417.7 L712.7 414.3 L713.2 418.1 L713.5 414.4 L714.0 415.8 L714.3 418.6 L714.8 417.7 L715.1 416.2 L715.6 417.4 L715.8 412.7 L716.3 415.3 L716.5 418.8 L717.0 421.0 L717.3 402.7 L717.8 414.5 L718.0 415.2 L718.5 413.4 L718.7 412.0 L719.2 429.7 L719.4 414.8 L719.9 414.4 L720.0 419.5 L720.5 424.5 L720.7 419.4 L721.2 419.3 L721.4 413.2 L721.9 417.2 L722.0 413.6 L722.5 418.7 L722.6 422.8 L723.1 424.2 L723.3 415.3 L723.8 418.8 L723.9 417.8 L724.5 415.9 L725.1 414.7 L725.7 416.5 L726.3 417.3 L726.9 416.4 L727.5 417.9 L728.0 424.0 L728.6 417.0 L729.1 416.1 L729.7 417.7 L730.2 419.5 L730.8 416.0 L731.3 421.4 L731.8 414.6 L732.3 419.4 L732.8 418.6 L733.4 418.6 L733.9 415.5 L734.3 425.0 L734.8 417.4 L735.3 417.3 L735.8 420.6 L736.3 420.9 L736.7 415.8 L737.2 419.9 L737.7 422.1 L738.1 418.1 L738.6 422.8 L739.0 416.5 L739.4 422.2 L739.9 420.7 L740.3 417.7 L740.7 424.1 L741.2 421.4 L741.6 417.4 L742.0 423.1 L742.4 424.1 L742.8 422.0 L743.2 424.3 L743.6 425.3 L744.0 425.2 L744.4 425.0 L744.8 427.9 L745.2 429.7 L745.6 425.8 L746.0 424.9 L746.4 428.4 L746.7 426.3 L747.1 428.0 L747.5 421.8"/>
<path d="M644.6 357.0V368.0" stroke-width="4"/>
<path d="M712.5 400.0V420.0" stroke-width="4"/>
<path d="M742.0 404.0V418.0" stroke-width="4"/>
<path d="M730.0 420.0V431.0" stroke-width="4"/>
</g>
<g stroke="#ff6600" stroke-width="4" fill="none" stroke-linejoin="round" stroke-linecap="round">
<path d="M126.4 112.2 L128.1 112.1 L131.1 111.2 L134.0 111.4 L134.0 111.9 L136.7 116.2 L138.0 118.2 L139.2 117.9 L141.6 117.6 L141.8 117.0 L143.9 119.2 L145.6 122.6 L146.1 122.7 L148.2 127.5 L149.2 128.3 L149.4 128.4 L150.2 130.6 L151.2 129.5 L152.1 129.9 L153.1 130.5 L153.3 131.1 L153.9 130.4 L154.9 130.7 L155.6 130.4 L156.6 126.9 L157.1 125.0 L157.3 126.1 L158.3 126.8 L159.0 131.5 L160.0 128.2 L160.5 128.1 L161.0 131.3 L161.5 131.1 L162.1 131.0 L163.1 134.6 L163.5 127.9 L164.5 132.1 L164.8 129.7 L165.0 130.5 L166.0 130.3 L166.3 130.7 L167.3 132.4 L167.7 133.1 L168.7 136.9 L168.7 134.6 L169.0 135.4 L170.2 134.1 L171.5 132.8 L172.5 134.6 L172.7 132.8 L173.8 137.0 L175.0 141.0 L175.1 141.6 L176.1 142.4 L177.2 140.2 L178.2 138.5 L178.9 136.5 L179.3 137.2 L180.3 133.3 L181.3 140.8 L182.2 144.0 L182.7 146.6 L183.2 139.8 L184.1 146.7 L185.0 144.7 L185.9 141.4 L186.6 143.6 L186.8 142.7 L187.6 151.5 L188.5 147.7 L189.3 151.1 L190.1 147.3 L190.4 148.6 L190.9 143.5 L191.7 150.2 L192.5 150.0 L193.2 148.6 L194.0 152.6 L194.3 150.5 L194.7 146.9 L195.4 150.6 L196.1 152.1 L196.8 153.1 L197.5 156.7 L198.1 157.7 L198.2 156.7 L198.9 156.6 L199.5 148.9 L200.2 153.5 L200.8 152.8 L201.4 154.3 L201.9 152.5 L202.1 158.3 L202.7 151.3 L203.3 149.8 L203.9 141.5 L204.5 147.9 L204.8 149.3 L205.1 141.3 L205.6 130.9 L205.8 128.5 L206.2 142.7 L206.8 151.7 L206.8 151.2 L207.1 157.6 L207.3 156.5 L207.9 158.5 L208.4 149.8 L208.9 160.2 L209.5 146.6 L210.0 156.1 L210.5 157.0 L211.0 154.7 L211.5 161.8 L212.0 156.1 L212.2 159.6 L212.5 158.9 L213.0 170.0 L213.5 161.8 L214.0 165.5 L214.4 164.5 L214.9 166.2 L215.4 168.6 L215.8 168.3 L216.0 164.9 L216.3 165.1 L216.7 165.4 L217.2 165.4 L217.6 163.6 L218.0 166.3 L218.5 163.8 L218.9 165.6 L219.3 158.1 L219.8 153.5 L219.9 162.0 L220.2 168.0 L220.6 164.3 L221.0 168.9 L221.4 166.3 L221.8 169.1 L222.2 166.9 L222.6 156.4 L223.0 173.2 L223.4 172.2 L223.7 176.0 L223.8 172.0 L224.1 174.8 L224.5 178.0 L224.9 173.6 L225.3 177.4 L225.6 175.8 L226.0 171.8 L226.4 173.9 L226.7 170.8 L227.1 169.8 L227.4 171.6 L227.6 170.6 L227.8 172.6 L228.1 171.1 L228.5 171.5 L228.8 170.9 L229.2 168.9 L230.0 172.6 L232.4 173.4 L235.5 176.8 L236.1 176.1 L238.4 181.0 L240.8 180.6 L241.1 182.0 L243.6 187.0 L245.4 189.9 L246.0 189.1 L248.3 192.6 L250.0 189.9 L250.5 189.9 L252.5 196.7 L253.0 192.7 L254.5 180.4 L255.4 179.1 L256.4 186.6 L256.9 197.9 L258.3 197.7 L260.0 195.3 L260.7 200.3 L261.7 197.4 L263.3 200.2 L264.6 196.1 L264.9 196.1 L266.4 206.1 L267.6 209.1 L267.9 204.3 L269.3 199.3 L270.0 201.8 L270.7 211.0 L272.0 214.9 L272.3 213.2 L273.3 211.6 L274.6 206.6 L275.1 208.6 L275.3 205.9 L275.6 207.2 L275.8 200.5 L276.3 207.3 L276.8 206.8 L277.0 197.8 L277.5 203.8 L278.0 202.6 L278.2 201.7 L278.4 202.9 L278.7 201.1 L279.2 203.7 L279.3 204.6 L279.8 205.2 L280.4 211.2 L280.9 207.7 L281.5 208.6 L281.5 206.2 L282.0 207.1 L282.6 208.5 L283.1 210.1 L283.6 207.0 L284.1 210.1 L284.6 219.4 L285.1 210.9 L285.6 212.4 L286.1 207.6 L286.6 205.3 L286.9 211.3 L287.1 213.0 L287.5 214.9 L288.0 216.0 L288.5 222.0 L289.0 214.8 L289.4 212.3 L289.9 209.3 L290.3 219.3 L290.8 214.9 L291.1 210.6 L291.5 216.8 L291.6 217.1 L292.0 218.7 L292.5 215.5 L292.8 217.2 L293.3 225.9 L293.7 221.8 L294.2 220.7 L294.5 218.0 L295.0 223.0 L295.3 224.7 L295.8 217.2 L296.1 218.2 L296.6 223.4 L296.8 213.8 L297.3 215.4 L297.6 222.1 L297.6 223.4 L298.1 212.6 L298.3 229.6 L298.8 223.9 L299.1 220.9 L299.6 220.9 L299.8 219.9 L300.0 226.2 L300.3 230.6 L300.5 232.6 L301.0 223.1 L301.2 235.6 L301.7 231.2 L301.9 230.9 L302.4 225.1 L302.6 228.7 L303.1 231.2 L303.2 226.8 L303.7 227.8 L303.9 229.5 L304.4 229.3 L304.5 226.0 L305.0 229.7 L305.2 234.6 L305.7 229.9 L305.8 240.0 L306.3 233.3 L306.4 232.7 L307.0 228.7 L307.7 236.3 L308.3 230.1 L308.8 236.5 L309.4 229.1 L310.0 221.8 L310.6 239.3 L311.1 230.8 L311.7 244.9 L312.2 232.3 L312.8 233.6 L312.8 235.3 L313.3 230.1 L313.8 237.8 L314.4 242.8 L314.9 236.8 L315.4 242.1 L315.9 240.8 L316.4 240.0 L316.9 241.1 L317.4 236.5 L317.8 242.1 L318.3 230.7 L318.8 251.6 L319.3 243.9 L319.7 227.0 L320.2 250.9 L320.6 243.6 L321.1 251.1 L321.5 248.9 L322.0 235.2 L322.4 246.7 L322.8 241.1 L323.3 242.2 L323.7 244.0 L324.1 240.4 L324.5 246.8 L325.0 243.8 L325.4 239.7 L325.6 245.5 L325.8 235.1 L326.2 245.8 L326.6 247.4 L327.0 248.1 L327.4 244.6 L327.7 247.6 L328.1 245.8 L328.5 250.8 L328.9 246.5 L329.3 237.0 L329.6 243.9 L330.0 245.9 L330.4 247.1 L330.7 252.4 L331.1 247.8 L331.4 245.4 L331.8 251.0 L332.2 250.5 L332.5 238.9 L332.8 243.5 L333.2 244.6 L333.5 252.1 L334.0 250.2 L334.5 250.6 L335.0 249.6 L335.5 250.8 L336.0 250.3 L336.5 251.1 L336.8 251.8 L337.3 252.0 L337.8 251.7 L338.3 251.1 L338.8 253.1 L339.3 254.1 L339.9 249.6 L340.4 253.3 L340.9 251.7 L341.4 252.8 L341.9 252.2 L342.4 253.0 L342.7 252.8 L343.2 254.3 L343.7 253.4 L344.2 256.1 L344.7 253.5 L345.2 255.4 L345.4 256.0 L345.9 256.2 L346.4 256.0 L346.9 255.1 L347.4 253.3 L348.0 258.2 L348.5 256.5 L349.0 255.9 L349.5 257.9 L350.0 257.0 L350.4 257.5 L350.9 258.7 L351.4 258.8 L351.9 260.9 L352.4 260.4 L352.7 260.8 L353.2 260.6 L353.7 259.9 L354.2 260.3 L354.7 260.2 L354.8 262.1 L355.3 262.1 L355.8 261.7 L356.3 264.4 L356.9 265.0 L357.4 264.6 L357.9 263.2 L358.4 263.5 L358.9 262.8 L359.4 264.5 L359.9 264.8 L360.4 266.8 L360.8 267.6 L361.3 264.7 L361.8 265.4 L362.3 269.2 L362.6 268.1 L363.1 267.1 L363.6 268.0 L364.1 266.0 L364.4 270.1 L364.9 269.6 L365.4 268.8 L365.9 271.7 L366.1 271.8 L366.6 270.8 L367.1 272.0 L367.6 272.5 L367.7 273.2 L368.2 272.1 L368.7 274.2 L369.3 277.0 L369.8 273.5 L370.3 273.6 L370.8 275.7 L371.3 276.7 L371.8 279.8 L372.3 276.4 L372.8 277.1 L373.3 276.9 L373.7 277.3 L374.2 275.8 L374.7 281.0 L375.1 276.8 L375.6 277.7 L376.1 281.9 L376.4 281.5 L376.9 283.9 L377.4 278.4 L377.7 282.9 L378.2 284.0 L378.7 279.9 L379.0 285.9 L379.5 278.6 L380.0 285.3 L380.2 284.0 L380.7 283.7 L381.2 283.8 L381.4 286.0 L381.9 286.6 L382.4 287.6 L382.6 286.8 L383.1 285.9 L383.6 285.4 L383.7 285.2 L384.2 291.4 L384.8 289.0 L385.3 291.3 L385.9 289.1 L386.4 289.5 L387.0 290.9 L387.5 290.1 L388.0 291.6 L388.5 292.8 L389.0 289.7 L389.5 293.8 L390.0 291.1 L390.5 292.9 L391.0 293.2 L391.5 295.5 L391.9 295.0 L392.4 298.9 L392.8 294.9 L393.3 296.5 L393.7 297.7 L394.2 297.7 L394.6 295.2 L395.1 299.6 L395.5 298.0 L396.0 296.6 L396.4 299.0 L396.9 298.6 L397.2 301.3 L397.7 302.3 L398.0 300.0 L398.5 303.1 L398.8 301.4 L399.3 303.1 L399.6 302.8 L400.1 300.5 L400.4 303.5 L400.9 305.8 L401.2 303.5 L401.7 303.8 L402.0 305.8 L402.5 305.9 L402.7 306.8 L403.2 307.9 L403.4 304.7 L403.9 306.7 L404.2 305.3 L404.7 308.1 L404.9 309.7 L405.4 307.5 L405.6 307.8 L406.1 307.8 L406.3 312.2 L406.8 306.9 L406.9 308.7 L407.4 307.4 L407.6 309.7 L408.1 311.8 L408.3 309.3 L408.8 313.9 L408.9 309.7 L409.4 313.6 L409.5 310.2 L410.0 310.8 L410.2 311.0 L410.7 309.9 L410.8 309.4 L411.4 311.2 L412.0 315.9 L412.6 316.9 L413.2 316.2 L413.8 312.9 L414.4 315.3 L414.9 315.4 L415.5 318.3 L416.0 316.9 L416.6 316.2 L417.1 321.2 L417.7 313.3 L418.2 318.0 L418.7 318.7 L419.2 319.2 L419.7 315.1 L420.3 319.2 L420.8 320.2 L421.2 320.6 L421.7 320.2 L422.2 317.6 L422.7 320.0 L423.2 318.2 L423.6 322.9 L424.1 317.6 L424.6 316.1 L425.0 319.2 L425.5 320.6 L425.9 321.2 L426.3 322.7 L426.8 322.5 L427.2 318.3 L427.6 320.1 L428.1 322.5 L428.5 323.1 L428.9 321.0 L429.3 322.2 L429.7 321.4 L430.1 324.1 L430.5 325.2 L430.9 323.1 L431.3 321.1 L431.7 324.1 L432.1 320.6 L432.5 323.2 L432.9 323.1 L433.3 325.3 L433.6 322.0 L434.0 319.5 L434.4 319.4 L434.7 322.4 L435.1 325.7 L435.5 323.2 L435.8 320.4 L436.2 324.9 L436.5 327.4 L436.9 320.7 L437.2 325.5 L437.6 327.8 L437.9 319.5 L438.4 325.1 L438.9 323.4 L439.4 321.5 L439.9 325.7 L440.4 326.9 L440.9 326.5 L441.2 325.5 L441.7 327.3 L442.2 324.7 L442.7 324.7 L443.2 326.2 L443.7 325.2 L444.2 320.3 L444.7 324.6 L445.2 319.3 L445.7 319.3 L446.2 325.3 L446.7 328.1 L447.1 326.0 L447.6 326.4 L448.1 325.7 L448.6 326.8 L449.1 327.4 L449.6 328.7 L449.8 324.3 L450.3 326.1 L450.8 328.1 L451.3 325.6 L451.8 330.9 L452.3 328.3 L452.8 325.0 L453.3 330.8 L453.8 331.0 L454.3 327.1 L454.7 327.5 L455.2 332.9 L455.7 327.1 L456.2 328.4 L456.7 326.1 L457.0 328.6 L457.5 329.4 L458.0 327.2 L458.5 330.2 L459.0 325.7 L459.2 326.2 L459.7 324.4 L460.2 322.5 L460.7 328.2 L461.3 326.1 L461.8 321.7 L462.3 334.5 L462.8 329.6 L463.3 327.4 L463.8 327.7 L464.3 326.0 L464.8 324.2 L465.2 327.1 L465.7 328.6 L466.2 331.5 L466.7 332.8 L467.0 328.8 L467.5 328.4 L468.0 326.6 L468.5 330.9 L468.7 327.6 L469.2 328.9 L469.7 328.2 L470.2 324.3 L470.4 327.7 L470.9 325.2 L471.4 331.9 L471.9 333.1 L472.1 329.9 L472.6 330.8 L473.1 332.8 L473.6 330.9 L474.1 330.6 L474.6 327.0 L475.2 334.7 L475.7 330.1 L476.2 331.8 L476.6 331.1 L477.1 331.3 L477.6 329.8 L478.1 330.9 L478.6 330.6 L479.1 330.7 L479.4 333.3 L479.9 327.0 L480.4 333.7 L480.8 329.3 L481.3 329.3 L481.8 329.7 L482.1 331.7 L482.6 333.3 L483.1 334.3 L483.3 327.6 L483.8 331.2 L484.3 335.6 L484.6 332.1 L485.1 337.5 L485.6 331.6 L485.8 330.3 L486.3 327.0 L486.8 332.9 L486.9 337.5 L487.4 333.7 L487.9 333.9 L488.1 332.5 L488.6 333.2 L489.2 333.5 L489.7 334.5 L490.3 332.8 L490.8 333.2 L491.3 332.2 L491.8 333.9 L492.4 328.9 L492.9 331.9 L493.4 330.1 L493.9 334.6 L494.4 333.8 L494.9 330.8 L495.3 327.7 L495.8 330.6 L496.3 334.4 L496.8 332.3 L497.2 331.3 L497.7 332.0 L498.1 332.5 L498.6 333.9 L499.0 331.2 L499.5 333.2 L499.9 333.1 L500.4 331.9 L500.7 330.7 L501.2 331.4 L501.6 334.1 L502.1 336.1 L502.4 330.8 L502.9 328.0 L503.2 328.8 L503.7 331.3 L504.0 331.5 L504.5 330.9 L504.8 331.3 L505.3 334.4 L505.6 329.2 L506.1 332.7 L506.3 332.8 L506.8 332.6 L507.1 333.1 L507.6 331.6 L507.8 327.6 L508.3 329.8 L508.5 333.2 L509.0 329.2 L509.2 333.7 L509.7 331.5 L509.9 331.4 L510.4 340.1 L510.6 330.1 L511.1 336.4 L511.3 328.0 L511.8 329.9 L512.0 330.1 L512.5 332.8 L512.6 330.6 L513.1 329.7 L513.3 331.9 L513.8 327.6 L513.9 329.6 L514.4 325.0 L514.5 331.5 L515.0 333.8 L515.2 330.2 L515.8 331.4 L516.4 328.4 L517.0 328.0 L517.6 331.7 L518.2 333.0 L518.7 332.2 L519.3 331.6 L519.9 332.2 L520.4 335.1 L521.0 325.9 L521.5 326.1 L522.0 328.4 L522.6 332.8 L523.1 325.2 L523.6 325.9 L524.1 330.1 L524.6 330.9 L525.1 330.8 L525.6 328.6 L526.1 329.8 L526.6 334.7 L527.1 328.9 L527.5 326.8 L528.0 331.4 L528.5 331.7 L528.9 328.9 L529.4 329.7 L529.8 329.0 L530.3 330.7 L530.7 325.4 L531.1 327.4 L531.6 326.0 L532.0 329.2 L532.4 326.2 L532.9 333.5 L533.3 335.1 L533.7 325.4 L534.1 323.9 L534.5 327.8 L534.9 328.0 L535.3 326.7 L535.7 326.2 L536.1 329.6 L536.5 330.2 L536.9 328.6 L537.2 325.5 L537.6 329.9 L538.0 327.0 L538.4 325.9 L538.7 327.9 L539.1 331.8 L539.5 326.0 L539.8 319.8 L540.2 325.0 L540.5 330.8 L540.9 328.0 L541.2 329.4 L541.6 327.3 L541.9 323.4 L542.3 320.8 L542.8 324.0 L543.3 326.9 L543.8 323.1 L544.3 323.8 L544.8 323.2 L545.3 327.4 L545.5 323.5 L546.0 324.9 L546.5 320.6 L547.0 322.2 L547.5 324.1 L548.0 324.9 L548.6 324.9 L549.1 322.3 L549.6 322.8 L550.1 320.9 L550.6 318.1 L551.1 327.1 L551.5 324.8 L552.0 322.8 L552.5 320.6 L553.0 320.4 L553.5 323.6 L554.0 325.4 L554.2 326.6 L554.7 321.1 L555.2 321.7 L555.7 325.0 L556.2 318.7 L556.7 316.2 L557.2 320.0 L557.7 314.5 L558.2 317.3 L558.7 319.9 L559.1 318.4 L559.6 316.8 L560.1 321.6 L560.6 317.7 L561.1 317.9 L561.4 317.7 L561.9 316.9 L562.4 320.9 L562.9 318.0 L563.4 317.4 L563.6 316.6 L564.1 314.9 L564.6 320.7 L565.1 317.3 L565.6 328.4 L566.1 322.1 L566.6 314.8 L567.1 320.5 L567.6 314.2 L568.1 321.1 L568.6 321.7 L569.1 320.1 L569.5 318.7 L570.0 313.0 L570.5 316.6 L571.0 316.8 L571.4 322.8 L571.9 318.1 L572.4 319.7 L572.9 316.0 L573.1 311.7 L573.6 319.8 L574.1 315.9 L574.6 314.0 L574.8 315.7 L575.3 318.0 L575.8 313.2 L576.3 316.7 L576.4 317.9 L576.9 312.0 L577.4 316.4 L578.0 320.2 L578.5 310.6 L579.0 311.3 L579.5 313.9 L580.0 311.6 L580.5 314.1 L581.0 310.3 L581.5 314.3 L582.0 310.8 L582.4 315.1 L582.9 315.7 L583.4 312.7 L583.8 313.3 L584.3 312.7 L584.8 314.2 L585.1 310.7 L585.6 309.4 L586.1 309.5 L586.4 317.0 L586.9 312.5 L587.4 309.8 L587.7 308.2 L588.2 306.8 L588.7 309.6 L588.9 311.3 L589.4 311.1 L589.9 309.2 L590.1 310.1 L590.6 308.5 L591.1 310.8 L591.3 307.5 L591.8 306.6 L592.3 307.9 L592.4 308.8 L592.9 308.8 L593.5 305.7 L594.0 308.5 L594.6 309.0 L595.1 309.1 L595.7 308.0 L596.2 307.9 L596.7 305.6 L597.2 306.8 L597.7 307.7 L598.2 304.5 L598.7 305.1 L599.2 305.7 L599.7 303.2 L600.2 307.3 L600.6 306.0 L601.1 304.6 L601.6 305.9 L602.1 303.1 L602.5 305.4 L603.0 306.0 L603.4 302.8 L603.9 304.9 L604.2 304.7 L604.7 299.3 L605.1 306.7 L605.6 303.2 L605.9 302.7 L606.4 303.5 L606.8 304.3 L607.3 307.4 L607.6 306.7 L608.1 302.7 L608.4 303.9 L608.9 304.2 L609.2 303.5 L609.7 302.0 L609.9 304.1 L610.4 306.3 L610.7 307.0 L611.2 303.8 L611.4 304.8 L611.9 303.6 L612.2 309.8 L612.7 309.1 L612.9 304.4 L613.4 305.8 L613.6 303.9 L614.1 304.8 L614.3 306.4 L614.8 308.8 L615.0 306.4 L615.5 306.1 L615.7 310.3 L616.2 310.1 L616.3 305.6 L616.8 307.8 L617.0 313.8 L617.5 309.0 L617.6 306.4 L618.1 306.5 L618.3 311.3 L618.8 309.8 L618.9 311.1 L619.4 312.6 L619.5 313.2 L620.1 317.4 L620.8 315.9 L621.4 315.3 L621.9 314.2 L622.5 313.9 L623.1 313.4 L623.7 321.2 L624.2 319.1 L624.8 321.4 L625.3 323.9 L625.9 322.0 L626.4 327.8 L626.9 327.4 L627.5 327.6 L628.0 327.5 L628.5 332.4 L629.0 332.4 L629.5 334.0 L630.0 340.0 L630.5 335.4 L630.9 338.5 L631.4 334.7 L631.9 340.2 L632.4 341.8 L632.8 340.8 L633.3 344.3 L633.7 347.9 L634.2 344.9 L634.6 349.7 L635.1 349.5 L635.5 350.0 L635.9 350.6 L636.4 348.1 L636.8 355.7 L637.2 355.6 L637.6 360.2 L638.1 354.1 L638.5 360.2 L638.9 358.4 L639.3 358.0 L639.7 355.0 L640.1 362.2 L640.5 361.5 L640.8 364.4 L641.2 367.4 L641.6 367.5 L642.0 370.0 L642.4 369.8 L642.7 372.6 L643.1 375.1 L643.5 373.1 L643.8 374.0 L644.2 374.5 L644.5 381.6 L644.9 375.9 L645.3 381.4 L645.6 379.6 L645.9 379.2 L646.3 382.7 L646.6 385.0 L647.1 384.9 L647.6 390.7 L648.1 396.1 L648.6 387.6 L649.1 394.5 L649.6 393.5 L649.9 390.9 L650.4 392.5 L650.9 395.2 L651.4 399.2 L651.9 403.1 L652.4 402.3 L653.0 409.0 L653.5 406.6 L654.0 402.2 L654.5 409.5 L655.0 412.6 L655.5 413.2 L655.8 411.8 L656.3 416.2 L656.8 417.7 L657.3 423.8 L657.8 419.8 L658.3 418.2 L658.5 423.0 L659.0 417.7 L659.5 424.6 L660.0 422.5 L660.5 424.6 L661.1 425.0 L661.6 426.3 L662.1 425.8 L662.6 422.4 L663.1 424.2 L663.5 424.2 L664.0 427.4 L664.5 426.1 L665.0 429.7 L665.5 432.9 L665.8 419.4 L666.3 424.8 L666.8 429.2 L667.3 429.3 L667.8 430.6 L667.9 427.5 L668.4 429.2 L668.9 429.7 L669.4 429.1 L670.0 432.2 L670.5 428.8 L671.0 428.2 L671.5 430.7 L672.0 428.4 L672.5 426.9 L673.0 430.9 L673.5 433.7 L673.9 429.1 L674.4 437.1 L674.9 430.2 L675.4 432.3 L675.7 431.0 L676.2 432.9 L676.7 428.7 L677.2 434.8 L677.5 429.8 L678.0 429.2 L678.5 432.0 L679.0 431.3 L679.2 432.9 L679.7 433.8 L680.2 432.1 L680.7 430.2 L680.8 433.4 L681.3 429.1 L681.8 428.3 L682.4 431.6 L682.9 432.2 L683.4 428.4 L683.9 429.4 L684.4 429.0 L684.9 429.3 L685.4 429.2 L685.9 431.3 L686.4 425.2 L686.8 427.5 L687.3 431.1 L687.8 426.6 L688.2 430.4 L688.7 429.6 L689.2 426.1 L689.5 426.2 L690.0 425.2 L690.5 429.2 L690.8 423.0 L691.3 426.6 L691.8 421.8 L692.1 430.1 L692.6 425.8 L693.1 422.1 L693.3 428.9 L693.8 425.6 L694.3 431.1 L694.5 424.5 L695.0 429.0 L695.5 427.5 L695.7 426.0 L696.2 431.0 L696.7 425.1 L696.8 420.0 L697.3 425.0 L697.9 424.4 L698.4 423.4 L699.0 424.6 L699.5 428.2 L700.1 424.3 L700.6 422.7 L701.1 426.0 L701.6 421.8 L702.1 420.4 L702.6 424.6 L703.1 421.8 L703.6 419.4 L704.1 424.5 L704.6 423.1 L705.0 421.3 L705.5 416.0 L705.9 417.7 L706.4 421.4 L706.8 419.9 L707.3 422.9 L707.7 420.3 L708.2 419.1 L708.6 419.2 L709.1 414.8 L709.5 418.0 L710.0 417.1 L710.3 413.2 L710.8 415.1 L711.1 417.0 L711.6 421.6 L711.9 420.5 L712.4 422.3 L712.7 419.4 L713.2 412.0 L713.5 416.0 L714.0 412.3 L714.3 411.7 L714.8 414.9 L715.1 408.3 L715.6 414.8 L715.8 412.8 L716.3 409.4 L716.5 408.9 L717.0 436.9 L717.3 418.3 L717.8 414.1 L718.0 415.4 L718.5 419.0 L718.7 412.4 L719.2 421.4 L719.4 418.2 L719.9 410.3 L720.0 412.3 L720.5 409.8 L720.7 429.3 L721.2 420.2 L721.4 418.3 L721.9 408.3 L722.0 412.7 L722.5 421.3 L722.6 413.3 L723.1 412.4 L723.3 424.5 L723.8 407.8 L723.9 416.8 L724.5 414.4 L725.1 416.4 L725.7 416.5 L726.3 416.0 L726.9 414.9 L727.5 423.1 L728.0 412.9 L728.6 417.0 L729.1 423.9 L729.7 410.8 L730.2 418.6 L730.8 419.7 L731.3 419.6 L731.8 415.4 L732.3 418.2 L732.8 418.3 L733.4 419.4 L733.9 416.3 L734.3 417.2 L734.8 420.6 L735.3 416.0 L735.8 416.3 L736.3 419.7 L736.7 416.5 L737.2 416.8 L737.7 417.3 L738.1 418.0 L738.6 419.3 L739.0 420.1 L739.4 417.3 L739.9 419.3 L740.3 414.9 L740.7 420.5 L741.2 419.9 L741.6 417.1 L742.0 414.6 L742.4 418.1 L742.8 426.1 L743.2 420.8 L743.6 427.2 L744.0 425.4 L744.4 426.0 L744.8 423.5 L745.2 424.7 L745.6 426.5 L746.0 426.1 L746.4 424.0 L746.7 422.0 L747.1 421.4 L747.5 423.2"/>
<path d="M719.8 330.0V418.0" stroke-width="4"/>
<path d="M710.0 420.0V439.5" stroke-width="4"/>
</g>
<g stroke="#ff0000" stroke-width="4" fill="none" stroke-linejoin="round" stroke-linecap="round">
<path d="M126.4 99.2 L128.1 99.1 L131.1 99.4 L134.0 98.5 L136.7 99.1 L137.9 99.2 L139.2 101.7 L141.6 105.0 L141.8 105.6 L143.9 111.4 L144.3 112.0 L146.1 109.9 L148.2 107.6 L149.2 104.5 L149.4 106.1 L150.2 105.2 L151.2 108.1 L152.1 112.8 L153.1 115.2 L153.3 115.4 L153.9 116.0 L154.9 115.6 L155.6 113.0 L156.6 111.7 L157.3 111.2 L158.3 112.9 L158.4 111.7 L159.0 110.7 L160.0 111.4 L160.5 112.4 L161.5 113.3 L162.1 112.5 L162.3 113.7 L163.1 111.0 L163.5 113.0 L164.5 110.9 L164.8 111.1 L165.0 110.1 L166.0 111.5 L166.3 112.7 L167.3 114.0 L167.7 112.1 L168.7 116.0 L168.7 114.6 L169.0 116.5 L170.2 111.7 L171.2 113.3 L171.5 111.4 L172.7 112.8 L173.8 117.2 L175.0 115.6 L175.1 118.3 L176.1 117.4 L177.2 120.1 L178.2 130.8 L178.9 125.9 L179.3 127.5 L180.3 122.0 L181.3 119.1 L182.2 117.4 L182.2 116.2 L183.2 118.0 L184.1 120.5 L185.0 122.1 L185.3 121.8 L185.9 126.5 L186.8 125.3 L187.6 127.0 L188.5 129.9 L189.1 130.6 L189.3 127.4 L190.1 128.2 L190.9 127.2 L191.7 124.8 L192.5 122.8 L193.0 125.1 L193.2 126.3 L194.0 127.6 L194.7 130.9 L195.4 130.9 L196.1 133.1 L196.8 129.7 L196.8 130.6 L197.5 127.8 L198.2 130.4 L198.9 126.4 L199.5 125.6 L200.2 125.9 L200.8 121.6 L201.4 124.5 L201.9 121.5 L202.1 126.1 L202.7 123.1 L203.3 129.0 L203.9 129.4 L204.5 134.3 L205.1 132.6 L205.6 132.7 L205.8 134.3 L206.2 134.7 L206.8 138.0 L207.3 138.1 L207.9 141.9 L208.3 141.3 L208.4 142.7 L208.9 136.9 L209.5 141.0 L210.0 141.4 L210.5 142.3 L211.0 137.7 L211.5 136.9 L212.0 137.4 L212.5 137.3 L213.0 140.3 L213.5 132.9 L213.5 135.4 L214.0 133.8 L214.4 133.2 L214.9 138.8 L215.4 138.0 L215.8 145.3 L216.3 144.5 L216.7 145.9 L217.2 149.4 L217.6 147.2 L218.0 146.0 L218.5 147.5 L218.6 152.6 L218.9 151.6 L219.3 153.0 L219.8 147.3 L220.2 148.3 L220.6 154.8 L221.0 149.6 L221.4 151.7 L221.8 136.8 L222.2 147.0 L222.6 151.9 L223.0 145.8 L223.4 149.8 L223.7 146.6 L223.8 145.5 L224.1 146.9 L224.5 151.1 L224.9 152.4 L225.3 149.2 L225.6 153.6 L226.0 156.3 L226.4 155.3 L226.7 150.1 L227.1 159.4 L227.4 153.3 L227.6 156.7 L227.8 151.6 L228.1 154.9 L228.5 154.7 L228.8 158.9 L229.2 153.0 L230.0 154.6 L232.4 156.6 L234.6 166.2 L235.5 165.4 L237.7 158.6 L238.4 156.0 L241.1 167.9 L242.3 169.6 L243.6 167.8 L244.6 161.1 L246.0 169.1 L248.3 176.0 L248.4 173.0 L250.5 167.8 L250.7 169.0 L252.5 167.6 L253.8 172.0 L254.5 171.3 L256.1 162.7 L256.4 173.1 L257.7 181.6 L258.3 180.4 L260.0 173.2 L260.7 176.0 L261.7 175.4 L263.0 183.0 L263.3 180.8 L264.9 186.7 L266.4 185.0 L266.9 181.0 L267.9 183.1 L269.2 164.0 L269.3 168.5 L270.7 184.8 L270.7 189.3 L272.0 185.3 L273.3 185.2 L273.8 184.7 L274.6 185.5 L275.1 186.9 L275.6 190.2 L275.8 193.8 L276.1 196.5 L276.3 200.6 L276.8 196.0 L277.0 195.1 L277.5 197.7 L278.0 187.6 L278.2 198.3 L278.7 188.1 L279.2 186.1 L279.2 186.4 L279.3 190.2 L279.8 182.1 L280.4 197.7 L280.9 190.4 L281.5 181.1 L282.0 200.4 L282.2 190.9 L282.6 192.3 L283.1 198.3 L283.6 196.2 L284.1 196.8 L284.6 199.4 L285.1 199.0 L285.3 201.1 L285.6 197.3 L286.1 205.5 L286.6 197.0 L287.1 198.5 L287.5 200.6 L288.0 194.6 L288.5 203.2 L289.0 195.4 L289.4 196.8 L289.9 194.1 L290.3 190.9 L290.7 195.1 L290.8 200.4 L291.1 197.6 L291.5 206.8 L291.6 204.9 L292.0 204.5 L292.5 214.1 L292.8 204.2 L293.3 207.0 L293.7 203.6 L294.2 199.1 L294.5 202.0 L295.0 200.7 L295.3 197.7 L295.8 199.7 L296.1 196.2 L296.1 203.0 L296.6 204.5 L296.8 205.4 L297.3 196.0 L297.6 207.3 L298.1 202.3 L298.3 197.3 L298.8 202.3 L299.1 207.0 L299.6 203.4 L299.8 207.0 L300.3 203.1 L300.5 207.8 L300.7 208.5 L301.0 204.7 L301.2 204.1 L301.7 209.2 L301.9 211.7 L302.4 208.8 L302.6 211.4 L303.1 211.1 L303.2 209.6 L303.7 210.8 L303.9 210.7 L304.4 214.4 L304.5 215.7 L305.0 211.4 L305.2 211.3 L305.3 212.8 L305.7 210.2 L305.8 205.0 L306.3 215.3 L306.4 206.9 L307.0 212.5 L307.7 207.3 L308.3 221.9 L308.8 211.6 L309.4 208.4 L310.0 210.2 L310.6 222.3 L311.1 210.8 L311.7 210.3 L312.2 209.6 L312.8 212.7 L313.0 213.4 L313.3 207.9 L313.7 218.1 L313.8 212.1 L314.4 220.1 L314.9 210.5 L315.4 219.4 L315.9 222.2 L316.4 221.4 L316.9 215.0 L317.4 211.0 L317.8 217.5 L318.3 224.3 L318.8 213.3 L319.1 221.6 L319.3 217.6 L319.7 224.6 L320.2 228.8 L320.6 218.6 L321.1 226.5 L321.5 225.9 L322.0 225.2 L322.2 223.4 L322.4 226.0 L322.8 229.0 L323.3 223.1 L323.7 219.8 L324.1 225.1 L324.5 224.8 L325.0 226.4 L325.4 229.7 L325.8 224.7 L326.2 229.1 L326.6 228.1 L327.0 226.2 L327.4 231.7 L327.7 226.8 L328.1 230.4 L328.5 230.3 L328.9 224.9 L329.3 222.3 L329.6 216.6 L329.9 228.6 L330.0 233.3 L330.4 229.0 L330.7 241.0 L331.1 230.8 L331.4 221.8 L331.8 227.6 L332.2 229.4 L332.5 235.3 L332.8 223.5 L333.2 222.9 L333.5 231.4 L334.0 231.7 L334.5 230.3 L335.0 231.4 L335.5 235.0 L336.0 235.0 L336.5 235.0 L336.8 235.7 L337.3 232.4 L337.8 236.7 L338.3 236.9 L338.8 236.6 L339.3 235.6 L339.9 236.5 L340.4 236.0 L340.9 236.4 L341.4 236.4 L341.9 237.4 L342.4 238.2 L342.7 238.9 L343.2 238.9 L343.7 238.3 L344.2 236.5 L344.7 239.7 L345.2 239.2 L345.4 238.5 L345.9 241.8 L346.4 241.4 L346.9 241.2 L347.4 241.7 L348.0 239.3 L348.5 242.7 L349.0 240.5 L349.5 241.6 L350.0 242.2 L350.4 240.3 L350.9 244.8 L351.4 246.2 L351.9 243.5 L352.4 245.2 L352.7 245.8 L353.2 243.7 L353.7 246.7 L354.2 245.2 L354.7 247.2 L354.8 247.4 L355.3 246.9 L355.8 249.8 L356.3 247.0 L356.9 248.8 L357.4 248.4 L357.9 248.9 L358.4 251.4 L358.9 250.3 L359.4 249.9 L359.9 251.3 L360.4 250.5 L360.8 251.8 L361.3 250.8 L361.8 255.0 L362.3 251.7 L362.6 252.7 L363.1 253.7 L363.6 255.1 L364.1 255.7 L364.4 253.6 L364.9 254.9 L365.4 256.5 L365.9 255.1 L366.1 254.2 L366.6 256.4 L367.1 255.1 L367.6 256.5 L367.7 258.0 L368.2 259.6 L368.7 261.2 L369.3 259.6 L369.8 259.9 L370.3 259.8 L370.8 256.7 L371.3 258.6 L371.8 260.8 L372.3 261.3 L372.8 265.5 L373.3 264.1 L373.7 264.5 L374.2 261.6 L374.7 262.4 L375.1 263.9 L375.6 263.6 L376.1 265.9 L376.4 268.4 L376.9 267.5 L377.4 266.1 L377.7 266.4 L378.2 267.9 L378.7 265.7 L379.0 266.3 L379.5 269.7 L380.0 267.6 L380.2 270.8 L380.7 268.5 L381.2 271.1 L381.4 273.1 L381.9 268.2 L382.4 272.2 L382.6 271.7 L383.1 268.8 L383.6 272.9 L383.7 272.5 L384.2 272.1 L384.8 276.7 L385.3 273.6 L385.9 273.7 L386.4 273.1 L387.0 275.2 L387.5 272.6 L388.0 276.1 L388.5 273.5 L389.0 276.1 L389.5 277.1 L390.0 277.4 L390.5 275.7 L391.0 275.6 L391.5 278.0 L391.9 281.2 L392.4 277.7 L392.8 280.2 L393.3 280.9 L393.7 280.6 L394.2 276.9 L394.6 283.5 L395.1 284.2 L395.5 284.6 L396.0 282.6 L396.4 281.8 L396.9 282.6 L397.2 284.7 L397.7 281.4 L398.0 287.2 L398.5 286.7 L398.8 286.5 L399.3 286.6 L399.6 285.9 L400.1 288.6 L400.4 284.3 L400.9 288.7 L401.2 291.5 L401.7 287.6 L402.0 288.7 L402.5 287.1 L402.7 292.1 L403.2 292.6 L403.4 290.0 L403.9 290.9 L404.2 291.4 L404.7 291.3 L404.9 294.5 L405.4 293.2 L405.6 285.3 L406.1 293.2 L406.3 295.8 L406.8 294.5 L406.9 293.1 L407.4 293.3 L407.6 291.8 L408.1 295.2 L408.3 293.8 L408.8 296.0 L408.9 297.9 L409.4 294.6 L409.5 298.2 L410.0 296.7 L410.2 299.2 L410.7 295.3 L410.8 298.7 L411.4 297.4 L412.0 300.0 L412.6 300.1 L413.2 295.4 L413.8 296.3 L414.4 296.1 L414.9 302.2 L415.5 301.3 L416.0 305.3 L416.6 302.1 L417.1 303.9 L417.7 301.7 L418.2 294.1 L418.7 305.9 L419.2 302.0 L419.7 304.8 L420.3 303.3 L420.8 307.1 L421.2 304.9 L421.7 305.5 L422.2 308.4 L422.7 308.9 L423.2 307.6 L423.6 310.4 L424.1 304.0 L424.6 306.1 L425.0 307.7 L425.5 310.4 L425.9 310.3 L426.3 313.2 L426.8 308.1 L427.2 312.5 L427.6 309.5 L428.1 313.8 L428.5 309.8 L428.9 312.1 L429.3 311.7 L429.7 311.1 L430.1 306.9 L430.5 311.0 L430.9 309.8 L431.3 314.3 L431.7 315.7 L432.1 313.6 L432.5 314.1 L432.9 315.5 L433.3 311.7 L433.6 319.0 L434.0 315.4 L434.4 311.2 L434.7 311.9 L435.1 316.3 L435.5 316.6 L435.8 318.2 L436.2 317.1 L436.5 317.8 L436.9 313.9 L437.2 314.3 L437.6 319.6 L437.9 316.4 L438.4 316.4 L438.9 315.1 L439.4 317.9 L439.9 316.5 L440.4 315.5 L440.9 316.1 L441.2 320.4 L441.7 321.3 L442.2 315.7 L442.7 321.3 L443.2 320.1 L443.7 322.2 L444.2 322.6 L444.7 324.0 L445.2 326.4 L445.7 320.1 L446.2 321.6 L446.7 323.6 L447.1 321.6 L447.6 319.1 L448.1 322.2 L448.6 324.7 L449.1 323.0 L449.6 321.6 L449.8 322.5 L450.3 327.0 L450.8 326.8 L451.3 323.5 L451.8 323.8 L452.3 324.7 L452.8 325.7 L453.3 321.6 L453.8 317.0 L454.3 327.8 L454.7 326.8 L455.2 328.4 L455.7 323.6 L456.2 325.7 L456.7 324.2 L457.0 330.5 L457.5 329.4 L458.0 322.1 L458.5 327.8 L459.0 325.0 L459.2 329.2 L459.7 326.5 L460.2 324.4 L460.7 327.5 L461.3 325.8 L461.8 327.1 L462.3 325.9 L462.8 326.9 L463.3 325.3 L463.8 321.8 L464.3 328.7 L464.8 323.6 L465.2 328.0 L465.7 325.3 L466.2 331.2 L466.7 327.4 L467.0 330.9 L467.5 328.6 L468.0 328.3 L468.5 324.5 L468.7 327.3 L469.2 330.6 L469.7 328.2 L470.2 330.0 L470.4 329.0 L470.9 326.1 L471.4 329.4 L471.9 334.6 L472.1 328.8 L472.6 324.5 L473.1 328.4 L473.6 327.6 L474.1 330.2 L474.6 330.3 L475.2 329.7 L475.7 331.8 L476.2 331.1 L476.6 331.4 L477.1 326.6 L477.6 329.7 L478.1 330.9 L478.6 329.0 L479.1 331.3 L479.4 330.6 L479.9 333.6 L480.4 331.4 L480.8 331.5 L481.3 328.5 L481.8 323.9 L482.1 332.1 L482.6 330.2 L483.1 333.8 L483.3 332.5 L483.8 332.8 L484.3 331.9 L484.6 331.0 L485.1 327.9 L485.6 330.7 L485.8 332.0 L486.3 329.7 L486.8 325.8 L486.9 332.0 L487.4 330.0 L487.9 335.0 L488.1 332.4 L488.6 330.2 L489.2 334.8 L489.7 335.8 L490.3 335.0 L490.8 334.9 L491.3 331.7 L491.8 332.9 L492.4 333.0 L492.9 331.3 L493.4 329.6 L493.9 336.4 L494.4 330.7 L494.9 333.3 L495.3 329.6 L495.8 327.8 L496.3 332.5 L496.8 332.5 L497.2 327.4 L497.7 333.5 L498.1 329.4 L498.6 336.3 L499.0 330.8 L499.5 330.7 L499.9 330.9 L500.4 324.6 L500.7 329.9 L501.2 329.7 L501.6 330.8 L502.1 328.2 L502.4 333.7 L502.9 332.6 L503.2 328.4 L503.7 334.7 L504.0 331.3 L504.5 334.3 L504.8 329.0 L505.3 336.3 L505.6 331.7 L506.1 331.6 L506.3 339.6 L506.8 330.4 L507.1 329.3 L507.6 331.4 L507.8 332.1 L508.3 329.7 L508.5 327.4 L509.0 328.0 L509.2 332.2 L509.7 332.4 L509.9 328.1 L510.4 329.3 L510.6 330.4 L511.1 331.4 L511.3 333.2 L511.8 334.8 L512.0 331.6 L512.5 330.9 L512.6 329.8 L513.1 329.9 L513.3 330.8 L513.8 331.2 L513.9 329.8 L514.4 332.6 L514.5 332.8 L515.0 331.8 L515.2 333.2 L515.8 330.6 L516.4 333.1 L517.0 327.5 L517.6 331.7 L518.2 330.6 L518.7 330.3 L519.3 327.5 L519.9 331.4 L520.4 337.1 L521.0 328.4 L521.5 331.8 L522.0 331.0 L522.6 329.4 L523.1 333.6 L523.6 338.4 L524.1 329.5 L524.6 329.6 L525.1 326.8 L525.6 328.7 L526.1 331.4 L526.6 331.7 L527.1 322.5 L527.5 332.0 L528.0 331.3 L528.5 327.2 L528.9 326.1 L529.4 326.6 L529.8 329.5 L530.3 329.8 L530.7 326.1 L531.1 329.3 L531.6 327.0 L532.0 326.7 L532.4 325.2 L532.9 320.3 L533.3 324.7 L533.7 327.7 L534.1 326.2 L534.5 323.8 L534.9 326.5 L535.3 328.4 L535.7 326.3 L536.1 326.3 L536.5 329.3 L536.9 327.5 L537.2 326.6 L537.6 327.6 L538.0 324.8 L538.4 324.7 L538.7 326.3 L539.1 324.6 L539.5 325.0 L539.8 325.6 L540.2 328.0 L540.5 326.4 L540.9 325.5 L541.2 321.0 L541.6 332.5 L541.9 324.4 L542.3 322.5 L542.8 323.7 L543.3 328.4 L543.8 325.5 L544.3 324.8 L544.8 325.5 L545.3 322.4 L545.5 328.5 L546.0 325.4 L546.5 324.8 L547.0 320.3 L547.5 324.6 L548.0 331.7 L548.6 318.2 L549.1 324.2 L549.6 321.6 L550.1 321.6 L550.6 327.1 L551.1 322.4 L551.5 322.6 L552.0 325.9 L552.5 321.3 L553.0 319.7 L553.5 322.0 L554.0 325.7 L554.2 323.6 L554.7 319.3 L555.2 321.3 L555.7 320.8 L556.2 320.1 L556.7 321.9 L557.2 320.6 L557.7 325.1 L558.2 316.2 L558.7 319.5 L559.1 319.6 L559.6 322.8 L560.1 318.1 L560.6 321.1 L561.1 319.5 L561.4 318.0 L561.9 322.6 L562.4 318.6 L562.9 318.8 L563.4 322.4 L563.6 318.8 L564.1 317.5 L564.6 316.3 L565.1 314.1 L565.6 317.2 L566.1 317.6 L566.6 319.3 L567.1 317.2 L567.6 316.3 L568.1 322.5 L568.6 316.9 L569.1 316.0 L569.5 315.5 L570.0 318.3 L570.5 313.9 L571.0 314.0 L571.4 318.2 L571.9 316.5 L572.4 317.4 L572.9 314.6 L573.1 320.2 L573.6 314.5 L574.1 317.8 L574.6 314.4 L574.8 313.4 L575.3 321.4 L575.8 313.3 L576.3 312.7 L576.4 323.3 L576.9 315.0 L577.4 313.0 L578.0 313.7 L578.5 313.7 L579.0 320.0 L579.5 310.7 L580.0 312.3 L580.5 309.6 L581.0 312.7 L581.5 316.5 L582.0 313.6 L582.4 312.5 L582.9 313.7 L583.4 312.1 L583.8 312.7 L584.3 312.7 L584.8 314.0 L585.1 312.7 L585.6 303.2 L586.1 310.7 L586.4 311.6 L586.9 307.8 L587.4 311.0 L587.7 307.7 L588.2 302.7 L588.7 311.7 L588.9 310.0 L589.4 309.2 L589.9 312.4 L590.1 306.6 L590.6 309.0 L591.1 310.9 L591.3 309.3 L591.8 309.5 L592.3 309.0 L592.4 308.1 L592.9 309.4 L593.5 308.0 L594.0 306.1 L594.6 312.1 L595.1 306.9 L595.7 304.0 L596.2 306.3 L596.7 306.4 L597.2 307.1 L597.7 304.7 L598.2 306.9 L598.7 309.0 L599.2 304.0 L599.7 304.2 L600.2 305.1 L600.6 305.1 L601.1 304.6 L601.6 314.3 L602.1 305.2 L602.5 307.3 L603.0 304.4 L603.4 310.2 L603.9 300.0 L604.2 305.7 L604.7 304.5 L605.1 306.6 L605.6 301.8 L605.9 303.1 L606.4 299.4 L606.8 300.5 L607.3 304.7 L607.6 301.7 L608.1 297.3 L608.4 306.2 L608.9 301.0 L609.2 302.9 L609.7 304.9 L609.9 304.7 L610.4 305.7 L610.7 302.8 L611.2 300.0 L611.4 305.4 L611.9 302.8 L612.2 303.6 L612.7 304.4 L612.9 304.6 L613.4 305.6 L613.6 298.9 L614.1 306.0 L614.3 310.4 L614.8 305.2 L615.0 301.9 L615.5 305.9 L615.7 300.9 L616.2 300.3 L616.3 302.3 L616.8 306.8 L617.0 304.9 L617.5 308.6 L617.6 306.5 L618.1 311.0 L618.3 310.5 L618.8 311.5 L618.9 310.3 L619.4 309.9 L619.5 313.8 L620.1 307.0 L620.8 310.8 L621.4 309.5 L621.9 314.5 L622.5 314.5 L623.1 315.7 L623.7 315.7 L624.2 318.1 L624.8 322.0 L625.3 318.6 L625.9 318.7 L626.4 320.4 L626.9 323.5 L627.5 320.5 L628.0 324.0 L628.5 327.1 L629.0 332.2 L629.5 327.8 L630.0 325.5 L630.5 331.9 L630.9 333.8 L631.4 329.3 L631.9 339.8 L632.4 331.4 L632.8 335.3 L633.3 340.1 L633.7 337.6 L634.2 343.1 L634.6 338.7 L635.1 343.8 L635.5 346.5 L635.9 342.4 L636.4 353.1 L636.8 349.3 L637.2 344.5 L637.6 346.6 L638.1 349.6 L638.5 351.2 L638.9 352.8 L639.3 355.6 L639.7 351.0 L640.1 354.3 L640.5 357.7 L640.8 360.6 L641.2 364.6 L641.6 362.2 L642.0 362.3 L642.4 362.3 L642.7 359.5 L643.1 364.8 L643.5 364.4 L643.8 366.4 L644.2 363.2 L644.5 369.8 L644.9 371.7 L645.3 377.3 L645.6 369.7 L645.9 379.4 L646.3 378.7 L646.6 379.8 L647.1 377.9 L647.6 377.0 L648.1 379.6 L648.6 387.0 L649.1 383.0 L649.6 387.0 L649.9 388.0 L650.4 389.8 L650.9 388.2 L651.4 394.6 L651.9 393.7 L652.4 395.9 L653.0 398.4 L653.5 404.6 L654.0 396.3 L654.5 400.0 L655.0 410.6 L655.5 404.1 L655.8 402.7 L656.3 407.8 L656.8 405.2 L657.3 415.1 L657.8 410.3 L658.3 412.8 L658.5 408.5 L659.0 419.5 L659.5 418.6 L660.0 415.5 L660.5 422.8 L661.1 422.4 L661.6 422.8 L662.1 422.5 L662.6 421.2 L663.1 423.9 L663.5 425.2 L664.0 423.2 L664.5 419.7 L665.0 427.9 L665.5 425.8 L665.8 422.2 L666.3 429.1 L666.8 428.3 L667.3 428.3 L667.8 425.9 L667.9 427.9 L668.4 428.0 L668.9 430.5 L669.4 424.9 L670.0 432.8 L670.5 427.0 L671.0 431.8 L671.5 429.6 L672.0 430.5 L672.5 430.8 L673.0 430.3 L673.5 431.1 L673.9 429.0 L674.4 430.7 L674.9 432.6 L675.4 432.0 L675.7 432.8 L676.2 429.3 L676.7 433.6 L677.2 431.5 L677.5 431.2 L678.0 428.7 L678.5 431.7 L679.0 429.8 L679.2 432.0 L679.7 430.8 L680.2 428.9 L680.7 427.4 L680.8 428.6 L681.3 432.2 L681.8 431.6 L682.4 429.5 L682.9 428.7 L683.4 430.8 L683.9 430.7 L684.4 427.2 L684.9 432.9 L685.4 432.0 L685.9 432.1 L686.4 431.5 L686.8 430.8 L687.3 430.9 L687.8 428.6 L688.2 427.3 L688.7 429.7 L689.2 428.2 L689.5 424.7 L690.0 428.0 L690.5 423.2 L690.8 424.2 L691.3 428.6 L691.8 425.8 L692.1 424.9 L692.6 426.0 L693.1 428.0 L693.3 425.8 L693.8 426.8 L694.3 427.0 L694.5 421.3 L695.0 428.7 L695.5 424.6 L695.7 426.5 L696.2 426.9 L696.7 425.8 L696.8 424.3 L697.3 420.7 L697.9 422.0 L698.4 427.2 L699.0 423.7 L699.5 423.6 L700.1 421.5 L700.6 421.7 L701.1 423.1 L701.6 424.0 L702.1 427.6 L702.6 421.3 L703.1 421.9 L703.6 424.3 L704.1 420.8 L704.6 422.9 L705.0 423.5 L705.5 419.9 L705.9 421.0 L706.4 422.2 L706.8 415.2 L707.3 419.8 L707.7 419.0 L708.2 421.6 L708.6 419.6 L709.1 421.0 L709.5 418.4 L710.0 419.1 L710.3 424.1 L710.8 419.1 L711.1 416.1 L711.6 414.9 L711.9 413.8 L712.4 414.1 L712.7 412.4 L713.2 421.2 L713.5 420.0 L714.0 415.1 L714.3 412.9 L714.8 411.1 L715.1 418.8 L715.6 418.7 L715.8 413.1 L716.3 410.7 L716.5 413.3 L717.0 416.0 L717.3 412.6 L717.8 417.0 L718.0 417.2 L718.5 419.5 L718.7 409.1 L719.2 420.0 L719.4 426.8 L719.9 415.7 L720.0 423.4 L720.5 420.9 L720.7 413.2 L721.2 417.3 L721.4 410.8 L721.9 413.9 L722.0 415.7 L722.5 418.7 L722.6 415.8 L723.1 414.6 L723.3 423.2 L723.8 413.4 L723.9 420.4 L724.5 416.0 L725.1 417.6 L725.7 412.3 L726.3 410.3 L726.9 418.0 L727.5 416.6 L728.0 417.5 L728.6 417.9 L729.1 418.5 L729.7 419.2 L730.2 415.5 L730.8 414.7 L731.3 421.9 L731.8 418.8 L732.3 419.1 L732.8 422.6 L733.4 419.3 L733.9 417.7 L734.3 413.7 L734.8 420.7 L735.3 416.0 L735.8 418.3 L736.3 416.0 L736.7 418.2 L737.2 416.3 L737.7 416.1 L738.1 418.7 L738.6 417.8 L739.0 415.0 L739.4 423.2 L739.9 414.7 L740.3 415.7 L740.7 418.2 L741.2 422.3 L741.6 421.8 L742.0 412.9 L742.4 416.0 L742.8 416.4 L743.2 423.5 L743.6 418.0 L744.0 418.8 L744.4 423.4 L744.8 416.5 L745.2 419.3 L745.6 420.9 L746.0 421.5 L746.4 424.7 L746.7 421.0 L747.1 424.1 L747.5 416.7"/>
<path d="M716.4 295.5V418.0" stroke-width="4"/>
<path d="M747.4 199.5V436.0" stroke-width="4"/>
</g>
<rect x="261.80" y="13.90" width="489.20" height="131.30" fill="#fff" stroke="#000" stroke-width="3.5"/>
<rect x="124.80" y="13.90" width="626.20" height="442.70" fill="none" stroke="#000" stroke-width="3.5"/>
<path d="M278.7 66.3H308.5" stroke="#800080" stroke-width="3.4"/>
<path d="M278.7 92.4H308.5" stroke="#0000ff" stroke-width="3.4"/>
<path d="M278.7 118.8H308.5" stroke="#00ff00" stroke-width="3.4"/>
<path d="M510.2 66.5H539.6" stroke="#ff6600" stroke-width="3.4"/>
<path d="M510.2 92.3H539.6" stroke="#ff0000" stroke-width="3.4"/>
<g class="t">
<text transform="translate(480.0 47.7) scale(1 1.04)" text-anchor="start">V<tspan class="sub" dy="4.3">OUT</tspan></text>
<text transform="translate(320.4 75.0) scale(1 1.04)" text-anchor="start" xml:space="preserve">0.8 V, 4.7 <tspan class="mu">µ</tspan>V<tspan class="sub" dy="3.3">RMS</tspan></text>
<text transform="translate(320.4 101.0) scale(1 1.04)" text-anchor="start" xml:space="preserve">1.2 V, 5.4 <tspan class="mu">µ</tspan>V<tspan class="sub" dy="3.3">RMS</tspan></text>
<text transform="translate(320.4 127.1) scale(1 1.04)" text-anchor="start" xml:space="preserve">1.8 V, 5.9  <tspan class="mu">µ</tspan>V<tspan class="sub" dy="3.3">RMS</tspan></text>
<text transform="translate(551.2 75.0) scale(1 1.04)" text-anchor="start" xml:space="preserve">3.3 V, 9.2  <tspan class="mu">µ</tspan>V<tspan class="sub" dy="3.3">RMS</tspan></text>
<text transform="translate(551.2 101.0) scale(1 1.04)" text-anchor="start" xml:space="preserve">5 V, 12.48  <tspan class="mu">µ</tspan>V<tspan class="sub" dy="3.3">RMS</tspan></text>
<text transform="translate(115.2 21.7) scale(1 1.04)" text-anchor="end">10</text>
<text transform="translate(115.2 132.4) scale(1 1.04)" text-anchor="end">1</text>
<text transform="translate(115.2 243.1) scale(1 1.04)" text-anchor="end">0.1</text>
<text transform="translate(115.2 353.7) scale(1 1.04)" text-anchor="end">0.01</text>
<text transform="translate(115.2 464.4) scale(1 1.04)" text-anchor="end">0.001</text>
<text transform="translate(125.4 490.1) scale(1 1.04)" text-anchor="middle">10</text>
<text transform="translate(229.8 490.1) scale(1 1.04)" text-anchor="middle">100</text>
<text transform="translate(334.1 490.1) scale(1 1.04)" text-anchor="middle">1k</text>
<text transform="translate(438.5 490.1) scale(1 1.04)" text-anchor="middle">10k</text>
<text transform="translate(542.9 490.1) scale(1 1.04)" text-anchor="middle">100k</text>
<text transform="translate(647.2 490.1) scale(1 1.04)" text-anchor="middle">1M</text>
<text transform="translate(751.6 490.1) scale(1 1.04)" text-anchor="middle">10M</text>
<text transform="translate(438.4 516.3) scale(1 1.04)" text-anchor="middle">Frequency (Hz)</text>
<text transform="translate(36.1 309.8) rotate(-90) scale(1 1.04)" xml:space="preserve">Noise (<tspan class="mu">µ</tspan>V<tspan class="rad" dx="-0.6">√</tspan><tspan dx="-0.9">Hz)</tspan></text>
</g>
</svg>
</body></html>
